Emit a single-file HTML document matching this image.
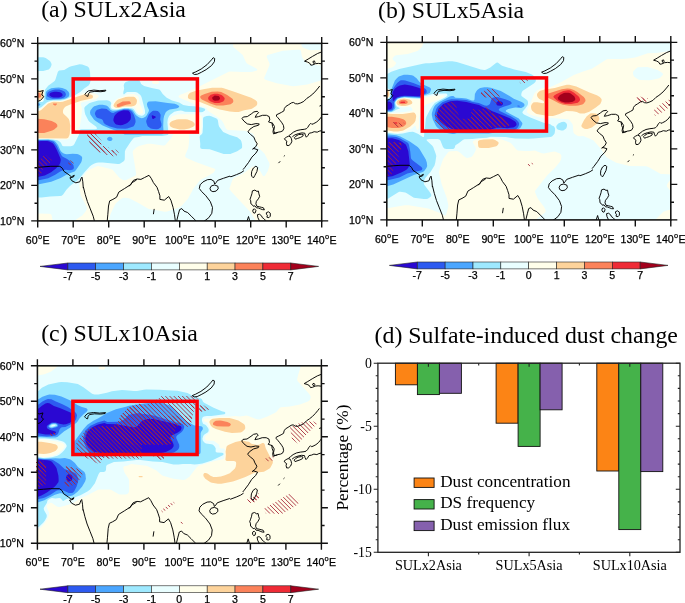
<!DOCTYPE html>
<html lang="en"><head><meta charset="utf-8"><title>Sulfate-induced dust change</title>
<style>html,body{margin:0;padding:0;background:#fff}svg{display:block}</style></head>
<body>
<svg width="685" height="603" viewBox="0 0 685 603">
<rect width="685" height="603" fill="#fff"/>
<clipPath id="clipa"><rect x="37.7" y="43.4" width="284" height="177.5"/></clipPath>
<g id="map-a">
<rect x="37.7" y="43.4" width="284" height="177.5" fill="#2a08d2"/>
<path fill="#2d5af0" fill-rule="evenodd" d="M321.7 220.9L37.7 220.9L37.7 177L44.7 175.4L49.7 173L51.4 171.9L55.9 168.4L59.2 165L60.2 162.9L60.8 159.9L60.5 158.4L56.7 149.8L54.7 146L53.4 143.9L52.4 142.9L49.2 141.4L47.2 141.1L41.7 141L37.7 141.3L37.7 43.4L321.7 43.4L321.7 220.9ZM59 97.4L61.7 96.5L62.6 95.4L62.4 93.9L61.3 92.9L60.2 92.3L56.7 91.7L54.2 91.7L51.2 92.4L50.2 93L49.5 93.9L49.3 94.9L49.5 95.4L51.7 97L53.7 97.4L59 97.4ZM122.4 124.9L125.7 123.8L127.2 123L129.4 120.9L130.6 119.4L130.9 117.4L130.7 114.1L129.7 111.9L128.2 110.6L123.7 110.3L119.7 111.4L117.1 112.9L115.1 114.9L114.2 116.4L113.5 118.9L113.4 120.4L114 121.9L115.2 123.7L116.2 124.4L118.7 125L120.7 125.2L122.4 124.9ZM153.4 118.9L155.7 117.4L155.8 116.9L155.2 116.3L152.2 115.2L151.8 115.4L151.7 115.9L152.1 117.9L152.7 118.9L153.4 118.9Z"/>
<path fill="#4ba6ff" fill-rule="evenodd" d="M321.7 220.9L37.7 220.9L37.7 180.6L48.2 178.2L55.2 174.7L60.2 171.4L63.7 169.9L65.7 169.7L69.7 170.2L72.2 169.8L73.5 168.9L73.9 167.4L73.4 164.9L70.7 161.4L66.7 158.8L63.2 157L61.9 155.9L59.4 151.4L56.8 145.9L53.7 141.8L51.6 140.9L48.2 140.3L37.7 140.3L37.7 43.4L321.7 43.4L321.7 220.9ZM61.1 98.4L62.9 97.9L64.7 97L65.5 95.9L65.9 94.4L65.5 92.9L64.7 91.7L61.7 90.2L59.2 89.6L55.2 89.6L52.7 89.9L48.9 91.4L47.7 92.4L47.2 93.4L46.9 95.4L47.3 96.4L48.2 97.1L50.7 98.3L52.7 98.7L57.2 98.8L61.1 98.4ZM127.4 128.4L131.7 127.1L133.3 126.4L134.5 124.9L135.6 121.9L135.4 119.4L133.9 114.9L132.1 111.9L130.5 110.4L128.2 109.5L123.4 109.4L116.5 111.4L113.2 113.1L111.2 112.4L106.7 109L105.2 108.7L101.7 108.6L97.2 109.8L96.3 110.4L95.6 111.4L95 112.9L94.9 113.9L96.2 117L97.7 118.1L101.2 119L102.2 119.5L102.9 120.4L103.8 122.9L105.6 124.4L109.9 126.4L117.2 128.5L125.2 128.7L127.4 128.4ZM158.3 128.9L160.7 127.5L161.5 125.4L161.4 123.4L160.2 119.4L160.6 115.4L160.5 114.4L159.2 112.3L157.7 111L155.7 110.7L153.2 110.8L152.2 111.3L150.2 112.9L148.7 114.7L146.3 120.4L146.2 121.4L146.5 122.9L147.7 126.2L150.7 128.4L153.2 129.1L156.7 129.2L158.3 128.9Z"/>
<path fill="#9ee9ff" fill-rule="evenodd" d="M321.7 220.9L37.7 220.9L37.7 184.5L51.2 181.7L60.7 177.9L68.2 173.7L74.5 171.4L76 169.9L81.1 162.4L81.7 160.9L82.2 157.9L82 156.9L81.2 155.9L78.7 154.4L77.2 153.9L72.7 153.7L66.7 154.2L65.2 154.1L63.7 153.5L62.2 152.4L60.7 150.9L58 144.9L55.7 141.9L54.2 140.8L52.2 140.2L48.2 139.7L37.7 139.7L37.7 105.9L39.6 105.4L40.2 104.9L40.3 104.4L40.1 103.9L39.5 103.4L37.7 103.1L37.7 43.4L321.7 43.4L321.7 220.9ZM48.4 99.9L59.7 99.6L64.7 98.8L66.7 97.9L68.8 96.4L69.3 94.9L69.2 92.9L68.3 91.4L66.2 89.4L62.2 88L58.7 87.5L55.2 87.7L51.2 88.3L47.2 90.5L46.3 91.4L45.8 92.4L45.5 98.4L46.2 99.5L47.2 99.9L48.4 99.9ZM140.2 134.4L161.2 134.3L163 133.9L163.6 132.9L163.2 125.9L163.5 118.9L164.1 115.9L165.6 112.4L167 110.9L169.7 109.5L176.2 108.4L177.7 107.9L179.1 106.9L179.1 105.9L176.7 104.4L174.7 103.8L167.7 103.1L155.7 101.3L148.7 101.4L147.5 102.4L146.9 103.9L147.4 106.4L149 109.9L148.7 111.4L146.7 115.2L145.7 116.6L143.7 117.7L141.7 118.2L139.2 117.6L136.7 115.8L135.4 114.4L132.8 110.4L131.2 109.5L128.2 108.8L124.2 108.7L116.2 110.6L112.7 110.8L110.7 109.9L108.2 106.7L107.2 105.9L106.2 105.4L102.7 104.8L99.2 104.7L94.2 106.3L92.7 107.4L90.4 110.4L90 112.4L90.4 114.4L93.9 119.4L95.7 121.1L102.7 125.4L109.2 128.2L121.7 132.9L124.7 134.4L140.2 134.4ZM110.7 140.9L111.8 140.4L112.4 139.4L112.4 138.4L111.8 137.4L110.7 136.9L109.7 136.8L108.2 137.2L107.4 137.9L107 138.9L107.7 140.2L109.2 140.9L110.7 140.9Z"/>
<path fill="#e9feff" fill-rule="evenodd" d="M321.7 220.9L37.7 220.9L37.7 197.6L41.7 197.5L50.2 196.6L60.2 196L61.7 195.7L63.1 194.4L66.6 189.4L70 185.9L71.8 184.4L76.2 181.6L79.2 178.7L85.1 171.4L89.7 166.4L91.6 164.9L94.4 163.4L96.7 162.7L98.7 162.6L102.7 162.6L117.7 164.1L119.2 164L120.7 163.3L123.7 161.2L124.6 159.9L124.8 158.4L124.9 151.4L125.6 149.4L130.7 141.8L133.3 138.4L134.6 137.4L138.7 137L142.2 136.1L162.2 136L167.7 134.9L168.3 134.4L168.4 133.4L167.4 122.4L167.8 118.9L168.7 116.7L169.9 114.9L174.2 111.8L177.3 110.9L180.7 110.5L182.2 110.7L184.2 111.6L185.2 111.8L194.2 111.9L201.2 112.3L202.7 111.9L204.2 111.1L204.9 110.4L205.3 109.4L204.4 108.4L201.2 107.4L194.2 106.3L188.7 106.1L183.2 104.9L179.2 102.6L172 100.4L166.7 97.7L162.7 94L160.4 90.4L159.2 89.5L151.6 87.9L144.1 85.9L141.1 83.9L140.1 81.4L139.2 80.5L137.7 80.2L130.2 80.4L125.7 82.1L124.3 83.4L123.7 85.4L124.2 88.8L123.3 91.9L123.3 93.9L123.7 94.3L124.2 94.3L126.2 92.5L127.2 92.1L135.2 91.9L137.2 92.6L140.4 94.9L141.5 96.9L145 110.4L145.1 113.4L143.7 115L142.2 115.7L141.2 115.8L138.4 114.9L136.5 113.4L133.7 109.2L132.2 108.5L128.7 108.1L124.7 108L122.7 108.2L116.7 109.6L114.7 109.6L112.7 109.3L111.3 108.4L110.7 107.4L110.6 105.9L111.3 102.9L110.2 101.6L108.2 100.6L106.7 100.3L98.2 100.4L91.2 102.5L89.2 103.3L85.2 106.4L84.5 107.4L84.3 108.4L84.7 111.9L85.3 114.4L88.4 120.4L89.7 122L96.2 126.8L96.9 127.9L96.7 128.9L94.7 129.2L81.7 129.3L80.2 129.6L79.2 130.9L79.2 133.4L78.8 134.9L74.4 143.9L73.2 145.4L70.7 146.2L63.7 146.2L62.7 145.9L62.2 145.5L61 142.9L60.2 141.9L58.8 140.9L57.2 140.3L53.2 139.6L48.2 139.1L37.7 139.2L37.7 108.4L41.2 107.2L46.7 102.5L48.7 101.4L53.2 100.5L60.2 100.5L63.7 100L67.7 98.6L71.7 96.4L75.3 94.9L80.2 91.9L84.2 88.4L88.6 85.4L89.9 83.4L90.7 79.9L90.2 75.9L90.1 72.4L89.1 67.9L87.7 66.6L82.2 64.5L79.7 64.2L71.2 66.2L69.2 66.9L64.2 69.9L59.2 70.5L58.5 70.9L57.8 71.9L55.7 78.8L55 80.4L54 81.4L48.2 85.7L45.2 89.4L44.7 91.4L44.4 96.9L43.6 100.9L42.7 101.7L41.7 102L37.7 101.9L37.7 71.1L43.2 71.1L48.7 69.4L50.2 67.9L51.2 65.9L51.6 64.4L51.2 62.9L50 60.9L45.7 58.1L43.2 57.3L37.7 57.2L37.7 43.4L321.7 43.4L321.7 220.9ZM230.3 153.9L237.2 151.2L241.7 148.3L242.1 147.4L242.1 144.4L241.4 141.4L240.7 139.9L237.2 137.3L229.9 134.9L223.2 131.9L219.2 126.8L218.6 124.9L217.9 120.4L217.5 119.4L216.5 118.4L211.2 116.2L209.2 115.7L206.7 115.9L203.8 116.9L203.2 117.9L203 118.9L203 126.4L202.5 132.9L201.7 134.3L200.1 135.4L199.6 136.9L200.3 143.9L200.1 146.9L200.7 148.4L202.2 149L209.7 149.3L223.7 153.9L230.3 153.9Z"/>
<path fill="#fffeea" fill-rule="evenodd" d="M321.7 220.9L255.5 220.9L254.9 219.4L250.3 211.9L231.7 192.1L229.7 189.4L229.4 188.4L232.2 180.4L233.4 178.4L234.7 177.6L242.8 173.9L252.2 166.7L253.2 166.4L254.2 166.6L259.2 169.9L260.5 171.4L262.7 175.5L263.7 176.2L264.5 175.9L265.2 175.2L267.8 170.9L269.5 165.4L269.5 163.9L269.3 162.9L264.7 153.9L262.7 151.7L258.5 147.9L256.2 144.4L255.6 142.9L254.7 137L253.7 134.7L252.7 133.6L251.7 133L244.7 130.8L237.7 130.6L234.2 130.2L228.2 130.1L227.2 129.8L225.9 128.4L223.1 122.4L221.7 120.4L217.7 117.2L208.2 111.1L207.6 110.4L206.9 108.4L206.3 107.9L203.2 106.7L198.2 105.7L195.9 104.9L189.6 101.9L179.8 97.9L178.6 96.9L178.6 95.9L179.7 95L186.2 92.4L198.2 87L228.2 71.9L229.7 71.6L237.2 71.7L241.7 72.1L250.7 72.1L252.7 71.8L256.8 70.4L257.3 69.9L257.3 69.4L256.3 68.4L248.2 64.3L246.7 63.2L245.9 61.9L242.7 54.9L233.4 46.9L233.1 45.9L233 43.4L301.3 43.4L301.7 45.9L302.7 47.4L309.2 50L310.7 50.2L315.7 50.1L321.7 49.7L321.7 65.6L311.7 64.5L308.2 64L307.2 63.5L304 59.9L302.3 57.4L301.7 55.4L301.1 51.4L300.7 50.4L299.7 49.8L296.2 49.7L282.7 50.8L267.7 55L266.7 55.9L266.7 56.9L269.5 63.4L269.6 64.9L264.1 77.9L264.4 78.9L266.1 79.9L276.7 83.3L292.7 86.2L295.7 86.1L307.2 84.4L321.7 80.2L321.7 220.9ZM38.2 46.4L37.7 46.6L37.7 44.1L40 44.4L39.6 45.4L38.2 46.4ZM157.7 84L155.2 84.1L153.2 83.8L152.1 82.9L152 81.9L152.7 81.1L154.7 80.4L156.2 80.3L157.7 80.7L158.9 81.4L159.3 82.4L158.8 83.4L157.7 84ZM41.2 101L37.7 101.2L37.7 89.1L42.2 89.3L43.2 89.7L43.7 90.4L44.1 94.9L43.7 97.9L42.7 100.2L41.2 101ZM67.7 139.5L60.2 139.7L47.7 138.8L37.7 138.8L37.7 109.9L39.2 109.5L41.2 108.5L47.2 103.1L49.4 101.9L53.2 101L60.7 101L63.7 100.6L67.7 99.2L77.7 95L83.2 93.2L88.2 92.5L90.7 92.5L95.7 93.9L97.8 94.9L98.8 95.9L98.6 96.9L95.7 99.2L91.7 100.3L85.2 101.4L81.7 102.4L80.9 102.9L80.7 103.9L81.8 107.4L81.9 110.4L81.3 117.9L79.7 126.9L77.2 131.1L74.7 132.3L73.2 134.1L70.7 136L69.2 138.7L67.7 139.5ZM140.7 114L139.2 113.7L137.7 112.5L136.5 110.9L135.2 108.3L134.2 107.5L124.2 107.4L117.7 108.9L115.2 108.9L113.7 108.4L112.6 107.4L112.1 105.9L112.4 104.4L114 101.4L116.2 99.3L118.7 98L124.2 96.2L126.7 94.5L128.7 94.2L133.7 94.1L135.2 94.4L137.6 95.9L138.7 97.3L139.7 103.4L142.7 109.5L143.1 111.9L142.9 112.9L142.2 113.5L140.7 114ZM108.7 220.9L75 220.9L76.1 219.4L80.7 216.6L82.3 215.4L85.9 210.9L86.9 208.9L86.6 206.9L80.7 194.9L79.1 184.9L79.4 183.4L81.1 179.9L85.7 172.7L87.2 171.3L89.7 169.6L96.2 166.6L98.2 166.1L107.7 168.2L112.2 169.5L113.2 170.4L119.2 177.5L121.2 179L123.7 180.2L124.7 180.3L126.2 179.9L134.7 176.1L135.7 175.4L136.2 173.9L132.7 152.4L132.9 150.9L133.7 149.9L136.7 147.3L138.9 145.9L147.7 143.7L150.7 143.7L162.7 145.5L164.2 145.4L165.3 144.9L170.9 138.4L172.7 135.2L173.4 134.4L172.8 133.9L171.1 133.4L170.2 132.5L168.5 124.9L168.5 122.4L169.1 120.4L170.9 117.4L172.2 116.3L177.2 114.5L179.7 114.2L194.2 114.2L199.7 115.1L201.2 115.6L201.7 116.4L201.8 117.4L201.7 126.4L201.3 132.4L200.7 133.2L199.7 133.5L191.2 133.7L189.6 133.9L188.8 134.4L189.3 135.4L189.4 137.4L188.7 144.9L188.2 147.9L185.3 154.9L185.1 156.4L186.2 157.7L195.7 161.9L208.2 166.6L214.7 168.7L215.3 169.4L215.3 169.9L213.7 172.4L209.7 175L201.2 179.6L199.7 180.8L193.5 188.4L187.8 198.9L181.9 205.4L179.2 207.6L167.2 211.6L164.7 211.7L160.7 211L148.7 208.9L138.4 202.9L130.2 198.8L128.7 198.3L125.2 197.8L123.2 197.8L121.2 198.8L116.7 202.4L115.4 203.9L110.7 213.4L109.3 218.4L109 220.9L108.7 220.9ZM52.2 220.9L37.7 220.9L37.7 213.6L48.7 213.7L50.7 214L51.5 214.9L51.8 215.9L52.6 220.4L52.6 220.9L52.2 220.9Z"/>
<path fill="#fdd39b" fill-rule="evenodd" d="M238.7 112L235.2 112L229.7 111.4L219.7 109.4L213.7 107.6L196.2 100.6L189.7 99.2L188.5 98.4L187.9 97.4L188 95.4L188.8 93.9L190.2 92.8L195.2 91.1L199.7 90L204.7 88.9L212.2 87.8L221.7 87.8L223.7 88.2L234.2 91.7L251.2 97.7L255.2 99.9L256.9 101.4L257.3 102.9L257 104.9L255.7 106.3L252.7 108.3L251.2 108.9L244.2 110.3L238.7 112ZM38.7 99.9L37.7 100L37.7 90.4L41.7 90.6L42.7 91.3L43.1 92.4L43.4 95.4L43.2 97.4L42.7 98.3L41.7 99.1L38.7 99.9ZM66.2 138.4L37.7 138.3L37.7 111.3L39.2 111L41.2 110.1L48.2 103.6L51.7 102.2L53.7 101.8L60.2 102L62.7 101.7L77.7 96.4L84.2 94.5L89.7 94.3L92.2 95.1L92.9 95.9L93 96.9L92.5 97.9L91.7 98.5L81.2 100.8L70.2 104.4L65.7 106.6L64.6 107.4L63.5 108.9L62.9 110.9L63.1 112.9L63.7 113.9L66.5 116.4L68.8 118.9L69.5 120.9L70.3 125.9L69.8 133.4L69.5 134.9L68.2 137.8L67.2 138.3L66.2 138.4ZM118.7 108L116.7 108.1L115 107.4L113.8 106.4L113.5 105.4L114 103.9L115.4 101.9L116.7 100.6L118.2 99.6L125.7 97.1L128.2 96.8L133.7 96.8L135.2 97.6L136.7 99.4L137 100.9L136.5 103.4L135.5 104.9L133.9 105.9L131.2 106.5L124.2 106.6L118.7 108ZM184.2 129.4L179.7 129.4L173.2 128L171.2 127L170.2 126.2L169.6 124.9L169.7 123.3L170.7 121.9L172.2 121L176.7 119.5L178.7 119.2L185.7 119.2L187.7 119.5L192.2 121.3L194.3 122.9L194.7 123.9L194.7 124.9L194.2 125.9L193.2 126.8L189.2 128.5L184.2 129.4Z"/>
<path fill="#fb825a" fill-rule="evenodd" d="M223.2 105.5L216.2 105.5L210.2 103.5L201.8 99.4L200.4 97.9L200.2 96.4L201.2 95.5L204.7 93.9L211.7 91.7L217.7 91.6L221.2 92.1L227.2 95.1L231.4 97.9L232.7 99.1L233.4 100.9L233 102.4L230.7 104.2L223.2 105.5ZM37.7 97.9L37.7 92.7L39.7 92.9L40.7 93.9L41.1 95.4L41.1 96.4L40.1 97.4L37.7 97.9ZM119.2 106.9L117.7 107L117.2 106.7L116.7 105.4L116.9 104.4L122.7 101.4L129.2 101.2L130.2 101.8L130.8 102.9L130.7 103.9L130.2 104.1L126.2 104.7L119.2 106.9ZM55.7 105.5L54.7 105.5L53.2 104.4L52.8 103.9L53.1 103.4L56.9 103.4L57.1 103.9L55.7 105.5ZM44.2 133L37.7 133.1L37.7 118.7L44.2 119.3L51.7 121L55.7 122.9L57.1 124.4L57.4 125.9L57.1 126.9L54.2 129.4L52.2 130.4L44.2 133Z"/>
<path fill="#ef2b36" fill-rule="evenodd" d="M219.2 103L214.7 103L210.7 101.4L209.3 100.4L208.5 99.4L208.2 98.4L208.3 97.4L209.2 96.2L210.7 94.8L211.7 94.4L214.2 93.8L217.7 93.7L221.5 94.9L222.9 95.9L224.2 97.4L224.6 98.4L224.4 99.9L223.2 101.4L219.2 103Z"/>
<path fill="#a3001c" fill-rule="evenodd" d="M218.2 100.6L215.2 100.7L213.9 100.4L212.7 99.4L212.3 98.4L212.3 97.4L212.7 96.9L214.7 95.6L218.7 96L219.9 97.4L220 98.4L219.2 99.9L218.2 100.6Z"/>
<clipPath id="ha">
<path d="M38 161.9L42 156.9L45.5 154.4L48 156.9L51.9 159.9L50.9 162.4L48 163.9L43 167.8L42 172.8L38 176.8ZM67.9 163.4L69.9 159.9L73.8 162.4L72.9 164.9L68.9 165.4ZM86.3 132L91.8 132L96.8 136.5L96.8 140.9L100.7 146.4L105.7 145.9L105.7 151.9L99.7 152.4L89.8 142.9ZM86.6 133L95.4 133L96.9 135.9L101.2 140.3L101.2 146.9L108.5 147.6L110 150.5L115.8 149.8L118.8 152.7L115.8 157.1L110 154.9L105.6 154.9L99.8 152L89.6 141.8Z"/>
</clipPath>
<path clip-path="url(#ha)" d="M13.4 154.4L35.8 176.8M18 154.4L40.4 176.8M22.7 154.4L45.1 176.8M27.4 154.4L49.8 176.8M32 154.4L54.4 176.8M36.7 154.4L59.1 176.8M41.4 154.4L63.8 176.8M46 154.4L68.4 176.8M50.7 154.4L73.1 176.8M60.8 159.9L66.3 165.4M65.5 159.9L71 165.4M70.2 159.9L75.6 165.4M65.6 132L86 152.4M70.3 132L90.7 152.4M74.9 132L95.4 152.4M79.6 132L100 152.4M84.3 132L104.7 152.4M88.9 132L109.4 152.4M93.6 132L114 152.4M98.3 132L118.7 152.4M102.9 132L123.4 152.4M62 133L86.1 157.1M66.6 133L90.7 157.1M71.3 133L95.4 157.1M76 133L100.1 157.1M80.6 133L104.7 157.1M85.3 133L109.4 157.1M90 133L114.1 157.1M94.6 133L118.7 157.1M99.3 133L123.4 157.1M104 133L128.1 157.1M108.6 133L132.7 157.1M113.3 133L137.4 157.1M118 133L142.1 157.1" stroke="#a8283a" stroke-width="0.9" fill="none"/>
<path clip-path="url(#clipa)" d="M36 167.5L38 167.3L44 166.8L50.9 166.3L59.9 166.3L62.4 168.3L63.9 171.3L68.9 174.8L71.4 176.8L74.3 175.3L73.4 177L69.9 177.8L71.9 180.8L75.8 182.8L79.8 181.8L81.3 177.8L82 177.1L82.8 181.8L83.3 188.1M83.4 187L85.2 194.3L87.4 201.6L90.3 208.9L93.2 216.2L94.7 222.1M107.1 222.1L107.8 214.8L108.5 206L109.7 200.9L112.9 199.4L116.6 197.2L118.8 192.1L124.6 188.5L130.4 184.8L133.4 180.4L137 179M128.8 185.8L130 185.6L132.2 182.6L135.8 180.4L137.3 179L140.9 179.4L144.6 177.5L149 175.3L151.2 178.3L153.4 182.6L157 187.3L158.5 191.4L159.9 195.8L159.9 199.4L164.3 200.2L168.7 196.5L170.9 200.2L173.1 207.5L174.5 214.8L175.5 222.1M176.4 222.1L178.2 214.8L179.6 209.6L181.8 208.6L184 211.1L187.7 212.6L191.3 216.2L195 219.9L196.4 222.1M203 222.1L208.8 217.7L211.8 213.3L212.5 207.5L210.3 201.6L205.9 195.8L201.5 191.4L199.3 188.5L200.1 184.8L203 181.9L207.4 179.7L211 179.4L213.9 181.2L214.7 184.1L216.1 182.6L217.6 180.4L223.4 178.3L230 176.1M210 188.2L211.5 185.8L214.7 185L217.9 186.3L218.2 188.8L216.1 191.1L212.9 191.7L210.6 190.5ZM153.4 214.2L154.2 208.9M230 176.1L230.8 176.8L236.6 174.6L241 172.7L243.9 170.7M243 169.6L244.6 167.7L248.6 162.4L251.9 157.1L255.9 153.1L257.9 149.8L253.9 148.5L252.6 149.1L255.9 146.5L257.2 143.8L255.2 140.5L253.9 137.2L250.6 134.5L247.9 131.9L249.9 129.2L253.9 126.5L258.6 125.2L259.2 123.9L255.9 123.6L251.3 124.6L247.3 123.9L244 121.2L242 118.6L243.3 117L247.3 116.6L251.3 113.9L253.9 111.9L257.2 111.3L258.6 112.6L256.6 114.6L255.2 117.3L258.6 116.6L262.5 115.3L266.5 115.3L269.2 116.6L269.8 119.9L268.5 121.9L272.5 123.2L274.5 126.5L273.8 130.5L274.5 133.2L277.8 132.5M322.7 51.5L317.6 53.5L312.5 56.4L308.1 59.1L304.5 61.2L307.4 62L309.6 63.1L310.8 65.2L312.8 64.9L315.4 63.7L318.4 63.4L322.7 63.9M312.8 61.7L314.3 60.8L315.1 62.3L314 63.7ZM319.5 106.1L322.7 104.9M272 122.6L272.5 126.3L273.5 128.8L273 131.7L273.5 133.9L275.5 133.2L278 132.2L280.9 131.7L282.9 130.7L283.9 128.3L283.4 125.3L281.9 122.8L280 120.3L278 117.8L276.5 116.3L276.5 114.8L279 113.6L281.4 112.4L283.9 110.9L284.4 108.4L285.9 106.4L288.4 104.9L291.4 102.9L293.4 102.4L295.4 103.7L297.8 103.9L300.8 102.9L303.8 101.4L306.8 98.4L309.8 96.4L312.8 94L315.7 91L318.2 88L319.7 86M284.4 138.7L286.4 137.2L288.4 136.2L290.4 136.7L291.4 138.7L291.9 141.2L290.9 143.7L288.9 145.5L286.9 145.5L286.4 143.2L286.9 141.2L285.4 140.2ZM288.9 135.7L290.9 134.2L293.4 132.2L296.9 130.5L300.8 129.7L304.3 129.3L306.3 128.8L307.8 127.3L309.3 124.8L310.8 123.3L311.8 124.3L313.3 123.8L316.2 122.3L318.7 120.3L320.7 117.8L322.2 115.8M292.4 136.7L294.9 134.9L298.3 133.7L301.8 132.9L304.8 133.2L305.3 135.2L306.3 137.2L307.8 135.7L309.3 133.2L311.8 132.7L314.2 131.7L317.2 132.2L319.2 131.2L322.2 130.5M294.4 137.7L295.9 136.2L298.3 134.7L301.8 134.2L303.3 134.7L302.8 136.2L300.3 137.5L297.3 138.5L295.4 139.2ZM283.8 156.4L284.8 155.5M278.5 163.1L280.2 161.3M251.4 174.9L251.7 171.5L253.4 168L255.9 166.2L257.7 167.5L256.9 171.5L254.9 175.4L253.4 177.9L251.9 176.4ZM252.4 190.9L254.9 190.1L256.9 191.4L258.4 191.1L258.9 193.8L259.7 196.3L258.4 198.8L256.4 201.3L255.9 203.8L256.9 206.3L259.4 206.8L261.4 207.3L263.4 207.8L264.4 209.8L262.4 209.6L260.4 208.8L258.4 208L256.4 207.8L254.9 205.8L253.4 206.3L252.4 204.8L250.9 203.8L250.7 200.8L250 199.3L250.9 196.8L251.9 193.8ZM252.9 209.8L254.4 208.8L255.9 210.3L255.4 212.7L253.9 213.2L252.9 211.8ZM266.4 212.7L268.4 211.8L270.3 213.2L270.3 216.2L268.9 217.7L266.9 217.2L267.4 215.2L266.4 214.2ZM257.4 214.7L259.4 214.2L261.4 215.7L262.4 217.7L263.9 218.7L265.4 220.2L264.4 221.7L259.9 221.7L257.9 217.7ZM247 221.2L248.5 216.5L249.8 221.2M192.5 73.2L195.7 71.9L201.2 69L207.1 64.6L211.5 59.8L213.2 57.7L214.7 58.5L214.4 61.7L211.5 65.6L206.2 69.6L201.5 72.2L197.4 74.2L194.5 74.5ZM84.9 94.4L86.4 92.4L88.4 90.9L93.9 90.1L99.9 90.7L105.9 90.2L105.4 91.1L100.9 91.7L94.9 91.4L89.9 92.1L88.4 93.9L87.9 96.4L86.4 95.9L85.4 94.9ZM36.3 90.8L39.8 91.5L43.3 90.5L42.3 93L41.8 95L43.8 96.5L42.3 98.5L40.3 100.5L36.3 101.7" stroke="#000" stroke-width="0.95" fill="none" stroke-linejoin="round"/>
<rect x="73.2" y="78.9" width="124.2" height="53.2" fill="none" stroke="#fb0007" stroke-width="3.5"/>
<rect x="37.7" y="43.4" width="284" height="177.5" fill="none" stroke="#111" stroke-width="1.55"/>
<path d="M37.7 220.9v6.5M37.7 43.4v-6.5M73.2 220.9v6.5M73.2 43.4v-6.5M108.7 220.9v6.5M108.7 43.4v-6.5M144.2 220.9v6.5M144.2 43.4v-6.5M179.7 220.9v6.5M179.7 43.4v-6.5M215.2 220.9v6.5M215.2 43.4v-6.5M250.7 220.9v6.5M250.7 43.4v-6.5M286.2 220.9v6.5M286.2 43.4v-6.5M321.7 220.9v6.5M321.7 43.4v-6.5M37.7 43.4h-6.5M321.7 43.4h6.5M37.7 61.1h-3.2M321.7 61.1h3.2M37.7 78.9h-6.5M321.7 78.9h6.5M37.7 96.7h-3.2M321.7 96.7h3.2M37.7 114.4h-6.5M321.7 114.4h6.5M37.7 132.2h-3.2M321.7 132.2h3.2M37.7 149.9h-6.5M321.7 149.9h6.5M37.7 167.7h-3.2M321.7 167.7h3.2M37.7 185.4h-6.5M321.7 185.4h6.5M37.7 203.2h-3.2M321.7 203.2h3.2M37.7 220.9h-6.5M321.7 220.9h6.5" stroke="#111" stroke-width="1.4" fill="none"/>
<text x="37.7" y="243.9" text-anchor="middle" font-size="10.6" font-family="Liberation Sans, sans-serif" stroke="#000" stroke-width="0.25">60<tspan font-size="7.4" dy="-5.1" dx="0.3">o</tspan><tspan dy="5.1" dx="0.4">E</tspan></text>
<text x="73.2" y="243.9" text-anchor="middle" font-size="10.6" font-family="Liberation Sans, sans-serif" stroke="#000" stroke-width="0.25">70<tspan font-size="7.4" dy="-5.1" dx="0.3">o</tspan><tspan dy="5.1" dx="0.4">E</tspan></text>
<text x="108.7" y="243.9" text-anchor="middle" font-size="10.6" font-family="Liberation Sans, sans-serif" stroke="#000" stroke-width="0.25">80<tspan font-size="7.4" dy="-5.1" dx="0.3">o</tspan><tspan dy="5.1" dx="0.4">E</tspan></text>
<text x="144.2" y="243.9" text-anchor="middle" font-size="10.6" font-family="Liberation Sans, sans-serif" stroke="#000" stroke-width="0.25">90<tspan font-size="7.4" dy="-5.1" dx="0.3">o</tspan><tspan dy="5.1" dx="0.4">E</tspan></text>
<text x="179.7" y="243.9" text-anchor="middle" font-size="10.6" font-family="Liberation Sans, sans-serif" stroke="#000" stroke-width="0.25">100<tspan font-size="7.4" dy="-5.1" dx="0.3">o</tspan><tspan dy="5.1" dx="0.4">E</tspan></text>
<text x="215.2" y="243.9" text-anchor="middle" font-size="10.6" font-family="Liberation Sans, sans-serif" stroke="#000" stroke-width="0.25">110<tspan font-size="7.4" dy="-5.1" dx="0.3">o</tspan><tspan dy="5.1" dx="0.4">E</tspan></text>
<text x="250.7" y="243.9" text-anchor="middle" font-size="10.6" font-family="Liberation Sans, sans-serif" stroke="#000" stroke-width="0.25">120<tspan font-size="7.4" dy="-5.1" dx="0.3">o</tspan><tspan dy="5.1" dx="0.4">E</tspan></text>
<text x="286.2" y="243.9" text-anchor="middle" font-size="10.6" font-family="Liberation Sans, sans-serif" stroke="#000" stroke-width="0.25">130<tspan font-size="7.4" dy="-5.1" dx="0.3">o</tspan><tspan dy="5.1" dx="0.4">E</tspan></text>
<text x="321.7" y="243.9" text-anchor="middle" font-size="10.6" font-family="Liberation Sans, sans-serif" stroke="#000" stroke-width="0.25">140<tspan font-size="7.4" dy="-5.1" dx="0.3">o</tspan><tspan dy="5.1" dx="0.4">E</tspan></text>
<text x="24.3" y="47.3" text-anchor="end" font-size="10.6" font-family="Liberation Sans, sans-serif" stroke="#000" stroke-width="0.25">60<tspan font-size="7.4" dy="-5.1" dx="0.3">o</tspan><tspan dy="5.1" dx="0.4">N</tspan></text>
<text x="24.3" y="82.8" text-anchor="end" font-size="10.6" font-family="Liberation Sans, sans-serif" stroke="#000" stroke-width="0.25">50<tspan font-size="7.4" dy="-5.1" dx="0.3">o</tspan><tspan dy="5.1" dx="0.4">N</tspan></text>
<text x="24.3" y="118.3" text-anchor="end" font-size="10.6" font-family="Liberation Sans, sans-serif" stroke="#000" stroke-width="0.25">40<tspan font-size="7.4" dy="-5.1" dx="0.3">o</tspan><tspan dy="5.1" dx="0.4">N</tspan></text>
<text x="24.3" y="153.8" text-anchor="end" font-size="10.6" font-family="Liberation Sans, sans-serif" stroke="#000" stroke-width="0.25">30<tspan font-size="7.4" dy="-5.1" dx="0.3">o</tspan><tspan dy="5.1" dx="0.4">N</tspan></text>
<text x="24.3" y="189.3" text-anchor="end" font-size="10.6" font-family="Liberation Sans, sans-serif" stroke="#000" stroke-width="0.25">20<tspan font-size="7.4" dy="-5.1" dx="0.3">o</tspan><tspan dy="5.1" dx="0.4">N</tspan></text>
<text x="24.3" y="224.8" text-anchor="end" font-size="10.6" font-family="Liberation Sans, sans-serif" stroke="#000" stroke-width="0.25">10<tspan font-size="7.4" dy="-5.1" dx="0.3">o</tspan><tspan dy="5.1" dx="0.4">N</tspan></text>
</g>
<clipPath id="clipb"><rect x="386.8" y="42.4" width="284" height="177.5"/></clipPath>
<g id="map-b">
<rect x="386.8" y="42.4" width="284" height="177.5" fill="#2a08d2"/>
<path fill="#2d5af0" fill-rule="evenodd" d="M670.8 219.9L386.8 219.9L386.8 177.1L392.3 176.2L401.8 172.2L406 169.9L407.3 168.9L409.3 165.9L409.8 164.4L408.3 151.2L406.5 145.9L405.7 144.4L402.3 141.9L398.8 139.9L392.3 138.3L386.8 138.3L386.8 109.7L389.3 109.6L391 108.9L391.9 107.9L392.3 105.4L391.9 103.4L390.3 102L388.8 101.4L386.8 101.4L386.8 42.4L670.8 42.4L670.8 219.9ZM393.4 100.9L395.8 98.3L397.3 97.2L401.8 96.1L404.8 95.7L413.3 95.9L417.3 96.3L419.8 96.2L421.3 94.1L424 92.9L424.3 92.4L424.3 91.2L423.3 89.9L420.4 88.4L417.8 87.4L410.8 85.4L404.8 84.6L399.8 85.4L397.3 86.8L395.1 88.4L394.2 89.4L392.8 91.9L392.6 93.4L392.6 96.9L392.8 100.4L393.4 100.9ZM488.8 130.9L489.8 130.6L492.3 129.1L497.8 127.8L500.8 127.7L507.3 128.2L513.3 127.5L514.8 126.7L516.2 125.4L516.6 124.4L516.4 123.4L515.8 122.2L514.8 121.2L509.8 118.3L498.3 113.4L491.8 111.1L489.3 109.6L483.3 107.2L479 104.9L472.3 103.5L466.4 101.9L457.3 100.8L452.3 100.9L450.3 101.2L443.3 103.9L439.7 107.4L438.3 109.4L436.9 114.4L437.7 117.9L438.8 120.3L442.3 123.6L444.8 125.4L451.3 128.7L459.8 130.9L488.8 130.9ZM501.7 105.4L502.8 104.6L503.1 103.9L502.8 102.7L501.8 101.8L499.8 101.2L498.3 101.1L496.9 101.9L496.1 102.9L496.5 104.4L497.4 105.4L500.3 105.7L501.7 105.4Z"/>
<path fill="#4ba6ff" fill-rule="evenodd" d="M670.8 219.9L386.8 219.9L386.8 180.5L399.3 177.4L407.3 173.4L420.8 170.5L421.9 169.9L422.4 168.4L421.4 166.9L412.8 160.6L411.3 159.1L410.9 157.9L410.2 150.9L409 144.9L408.4 143.4L407.8 142.7L400.3 138.6L396.3 137.1L391.8 136.4L386.8 136.4L386.8 110.7L390.8 110.6L392.2 109.9L393.2 108.9L394.1 106.9L394 102.9L394.2 101.9L396 99.4L397.8 97.9L404.3 96.5L420.3 97.2L420.8 96.9L421.6 95.4L422.3 94.7L426 93.4L426.4 92.9L426.7 91.9L426.6 90.4L425.6 88.9L420.8 86L413.3 83.1L405.3 80.5L403.3 80.2L400.8 80.3L399.6 80.9L397.1 82.9L392.8 89L391.7 91.9L391.5 97.9L391 99.4L389.8 100L386.8 100.3L386.8 42.4L670.8 42.4L670.8 219.9ZM490.7 131.9L496.3 131L512.8 130.9L515 129.9L516.9 128.4L518.1 126.9L519 124.9L519.1 123.4L518.5 121.9L516.8 119.9L510.8 116.3L499.8 111L498.8 109.9L499 108.9L500.3 107.9L504.3 106.4L509.3 105L510.8 104.2L511.6 103.4L511.7 102.9L511.2 101.9L510.3 101.2L505.3 99.3L498.3 97.3L496.8 97.1L494.8 97.3L492.8 97.8L491.8 98.4L491.3 99.4L489.9 103.9L488.3 105.3L486.8 105.8L484.8 105.4L478.8 103L472.8 102.1L466.3 100.1L458.8 99.4L451.3 99.3L447.8 100.1L442.3 102.3L437.8 106.4L436.2 108.9L434.6 114.4L435.1 117.4L435.9 119.9L440.7 126.4L445.6 130.4L447.3 131.4L449.8 132L460.3 132.3L487.8 132.3L490.7 131.9ZM519.7 106.4L519.9 105.9L519.3 105.7L517.8 105.6L517.3 105.9L517.8 106.5L519.7 106.4Z"/>
<path fill="#9ee9ff" fill-rule="evenodd" d="M670.8 219.9L386.8 219.9L386.8 186.2L393.2 184.4L413.8 175L422.8 172.1L424.2 170.9L426.4 167.9L427.2 165.9L426.8 162.4L425.8 159.4L419.5 148.9L417.7 146.9L409.8 141.4L400.3 136.6L396.3 135.3L386.8 134.3L386.8 111.4L389.8 111.6L391.3 111.4L392.8 110.7L394.8 108.9L395.5 107.4L394.8 103.4L394.9 101.9L396.3 99.9L397.8 98.6L401.3 97.6L404.3 97.1L420.5 97.9L421.4 97.4L422.8 95.4L426.3 94.5L429.8 92.9L431.1 89.4L430.8 88.4L429.8 87.6L424.3 85L420.2 82.4L419.1 81.4L416.8 78.4L413.3 75.8L411.8 75.3L407.8 74.8L403.8 74.8L398.8 76.6L397.1 77.9L394.9 80.4L391.5 88.9L391 91.9L390.9 95.9L390.5 97.9L389.3 99.1L386.8 99.6L386.8 42.4L670.8 42.4L670.8 219.9ZM454.2 133.9L456.8 133.3L488.8 133.4L495.8 132.6L512.3 132.5L514.8 132.1L518.3 129.6L520.7 127.4L522.2 124.4L522.4 123.4L522 122.4L518.8 118.4L506.8 112.1L505.9 111.4L505.8 110.6L506.5 109.9L508.3 109.1L513.8 107.7L515.8 107.6L519.8 108.1L521.3 108L523.2 106.9L524.3 105.9L524.5 104.9L524.3 104L523.3 102.9L521.7 101.9L513.8 98.8L507.8 94.9L500.8 90.9L490.8 87.8L487.3 87.2L484.3 87.3L480.3 87.9L479.3 88.4L477.3 90L476.2 91.4L474.9 93.9L474.5 99.4L473.8 100.5L471.9 100.4L466.3 98.6L461.8 98L455.8 97.8L455 97.4L454.1 96.4L453.3 95.9L451.8 95.9L449.8 96.5L439.3 101.9L435.4 104.9L434.3 106.4L433.3 108.4L431.9 112.9L431.8 114.9L432.8 119.4L435.8 125.4L436.8 126.9L439.8 129.5L442.8 131.7L444.3 132.5L452.3 134L454.2 133.9Z"/>
<path fill="#e9feff" fill-rule="evenodd" d="M670.8 219.9L386.8 219.9L386.8 199L388.3 198.4L397.9 192.4L399.3 191.8L400.3 191.7L405.3 192.6L407.2 193.4L413.8 197.7L423.8 199L426.3 199.1L427.8 198.8L430.3 197L431.2 195.9L431.3 194.9L431 193.9L429 190.9L424.4 184.9L423.8 183.4L423.8 182.4L424.6 179.4L425.3 177.9L430.5 171.9L434.5 165.4L435.3 162.4L436.3 155.9L435.6 153.4L433.2 146.9L432.1 145.4L427.2 140.9L426.5 139.9L426.7 139.4L429.8 139.1L437.8 139.1L439.3 139.4L440.4 140.4L443 146.9L444.3 148.5L446.3 149L452.3 149L453.3 148.9L454.3 148.3L454.8 147.4L455.3 145.4L455.8 144.9L458.3 143.5L462.8 139.9L464.3 139.2L472.3 139L478.8 138.2L486.8 137.8L490.8 136.7L505.8 137.1L515.3 138.5L528.3 138.7L533.3 138.5L550.3 137L552 136.4L554.3 133.9L554.7 132.9L555.1 129.9L555 128.4L554.4 126.9L553.8 126.3L551.8 125.4L550.3 124.3L548.8 123.7L544.3 122.9L530.3 117.5L524 114.4L522.5 112.9L522.4 112.4L522.7 111.4L525.3 108.6L527.4 105.4L528 103.9L528 102.4L527.9 101.4L527.3 100.3L521.8 96.3L521.3 95.4L521.3 93.9L521.9 91.9L522.8 90.7L533.8 83.5L535.4 81.9L535.9 80.4L535.8 79.4L533.3 75.6L531.8 74.4L525.8 72L514.3 69.5L502.8 66L501.3 65.3L497.8 62.6L496.3 62.8L490.3 67.5L485.8 69.8L484.3 70.1L480.9 69.4L456.8 62.1L452.3 61.2L448.3 61.3L429.3 63.2L425.8 63.3L422.8 63.8L399.3 69.1L391.3 71.8L386.8 74.3L386.8 42.4L670.8 42.4L670.8 219.9ZM388.3 98.6L386.8 98.9L386.8 88.5L389.3 88.9L389.8 89.4L390.1 90.4L390.3 94.4L390.2 95.9L389.3 97.9L388.3 98.6ZM423.8 136.9L422.8 137L418.3 134.1L414.3 132.2L412.8 131.8L409.3 131.9L402.8 133.5L397.8 133.9L394.3 133.8L386.8 132.7L386.8 112.1L390.3 112.3L392.3 112.1L396.8 109.5L399.9 108.4L399.5 107.9L396.8 106.4L396.2 105.4L395.4 102.9L395.6 101.9L396.6 100.4L397.6 99.4L398.8 98.7L402.3 97.9L404.8 97.7L416.3 98.6L420.8 98.7L421.8 98.3L423.3 96.5L423.8 96.2L433.8 93.7L443.8 93.4L445.8 93.5L446.8 93.8L447.5 94.9L447.1 95.9L445.1 97.4L437.8 101.2L434.8 103.1L432.4 105.9L429.9 109.9L426.5 116.4L425.7 118.9L425 127.4L424.3 131.4L424.1 135.9L423.8 136.9ZM563.2 130.4L564.8 129.6L566.1 128.4L566.6 127.4L567.1 125.4L566.8 123.9L566.1 122.9L564.8 122L563.8 121.8L561.8 122.1L558.3 123.4L556.6 125.4L556.2 126.9L557 128.9L558.3 129.8L561.3 130.5L563.2 130.4Z"/>
<path fill="#fffeea" fill-rule="evenodd" d="M386.8 69L386.8 42.4L423.5 42.4L423 44.4L421.8 46.9L419 49.9L417.3 51.1L407.8 53.9L396.3 55.2L394.8 55.8L393.1 57.4L392.5 58.9L393 59.9L395.9 62.4L396.1 63.4L395.8 64L394.3 66.1L392.8 67.3L386.8 69ZM670.8 174.6L667.8 174.2L662.3 174.1L660.8 173.9L648.8 167.3L646.3 166.3L629.3 166.1L616.3 162.7L609.3 159L606.3 156.9L600.8 148.8L593.3 140.3L583.3 136.1L579.3 136.2L577.8 135.9L574.6 133.9L573.7 132.9L573.3 131.6L572.8 124.9L572.4 123.9L569.8 120.4L568.8 119.6L567.3 119.2L557.3 118.6L551.8 117.9L548.8 118.6L544.8 118.5L533.3 115.7L530.3 114.4L527.3 112.4L527 111.4L527.2 110.4L527.8 108.4L531.2 101.4L534.3 93.4L537.3 90.5L539.3 89.3L544.8 87.5L550.3 86.9L552.8 86.1L561.3 82L573.8 75L583.8 71.2L591.8 68.7L597.8 65.1L606.3 59.4L607.8 59.1L622.8 59.1L627.8 58.5L635.3 57.4L647.8 53.3L656.3 53.1L670.8 51L670.8 174.6ZM651.5 79.9L658.3 78.6L659.8 78L662.8 74.9L663 73.9L662.7 73.4L661.3 72.2L657.6 69.9L650.8 67.9L647.3 67.1L637.8 67.3L635.8 68.7L633.6 70.9L633 71.9L633 73.9L634 76.4L635.3 77.6L638.8 79.8L640.8 80.1L648.8 80.2L651.5 79.9ZM386.8 98.4L386.8 89.3L388.3 89.5L389.3 90.1L389.7 91.4L389.9 94.4L389.7 95.9L389 97.4L388.3 98L386.8 98.4ZM398.3 132.9L393.8 133L386.8 131.8L386.8 112.6L390.8 112.9L403.3 112.3L411.3 110.9L412.4 110.4L412.6 109.9L412.3 108.9L411.4 107.4L410.3 106.6L403.3 107.4L400.3 106.9L397.3 105.8L396.3 104.3L395.9 102.4L396.3 101.4L397.8 99.7L399.3 98.9L401.3 98.4L404.8 98L415.8 99.3L420.8 99.5L421.8 99.3L424.3 97.8L431.3 96.3L441.8 95.3L443.7 95.4L444.3 95.9L443.7 96.9L441 98.4L425.8 104.7L423.8 106.7L421.2 110.4L419.6 115.4L419.1 118.4L419 127.4L418.5 128.9L417.8 129.7L417.3 129.9L416.8 129.6L416.3 128.7L415.8 126.2L415.3 125.7L414.8 125.7L411.3 128.8L406.9 130.9L403.3 132.3L398.3 132.9ZM535.8 219.9L386.8 219.9L386.8 208.1L388.8 208L404.8 205.2L408.8 205.2L428.3 208.4L441.3 213.6L442.9 214.4L444.3 215.6L445.3 215.8L446.2 214.4L447.3 210.4L448.3 206.4L448.3 204.9L446.8 197.9L441.6 183.9L438.8 171.9L440.1 167.4L442.8 159.9L443.8 157.9L448.3 152L449.3 151.4L450.8 151.2L456.8 151.1L458.3 151.4L460.8 153.2L464.3 156.5L466.8 157.9L468.3 157.8L471.3 157L472.8 155.6L474.9 151.9L476 149.4L475.6 147.4L472.8 142.4L472.9 141.4L473.2 140.9L475.3 139.9L478.8 139.2L484.3 138.5L487.8 138.6L490.3 137.9L493.8 137.9L500.6 138.9L510.3 142.7L511.8 143.9L516.3 149.4L517.8 150.4L525.3 151.1L529.3 151.1L534.8 150.6L541.8 153.2L543.8 153.6L552.8 151.8L554.8 151.6L559.8 153.6L561.2 154.9L561.4 156.4L561 159.4L559.8 161.9L554.8 168.1L547.3 175.2L535.3 190.4L535 191.4L535.2 192.4L537.2 197.4L538.8 199.9L543.8 206.4L545.4 209.4L545.8 210.9L545.5 211.9L544.8 212.7L537.2 218.4L535.8 219.9ZM670.8 190.5L669.8 189.9L667.7 187.4L667 186.4L666.8 185.4L667.6 183.4L669.8 180.6L670.8 179.9L670.8 190.5ZM670.8 219.9L655.7 219.9L656.6 218.4L663.3 211.8L665.8 210.8L670.8 209.5L670.8 219.9Z"/>
<path fill="#fdd39b" fill-rule="evenodd" d="M552.8 116L548.3 115.9L536.8 114L535.3 113.2L532.5 110.9L531.7 109.9L531.1 107.9L531 105.9L531.9 103.9L533.3 102.6L534.8 102.3L537.3 102.3L542.8 103.3L543.9 102.9L544.1 101.9L543.3 100.7L539.3 98.9L537.9 97.4L537.1 95.9L537 94.4L537.3 93.4L538.8 91.7L540.3 90.7L544.8 89.4L548.3 89.1L554.8 88.1L561.8 85.9L566.8 84.8L569.3 84.7L576.3 86.6L589.5 92.4L596.8 95.2L599.8 97.1L601.5 98.9L601.7 99.9L601.4 101.4L600.3 103.9L595.8 107.6L589.3 111.8L584.3 113.4L580.8 113.5L579.3 113.3L576.8 112L572.8 111.2L566.3 111.1L564.8 111.5L559.3 114.1L554.8 115.6L552.8 116ZM387.3 97.5L386.8 97.6L386.8 90.2L388.1 90.4L388.7 90.9L389.3 93.4L389.3 94.9L389 95.9L388.3 97L387.3 97.5ZM405.3 105.9L401.8 106.1L398.3 105.3L397.3 104.6L396.6 103.4L396.5 102.4L396.8 101.5L397.8 100.3L399.1 99.4L401.3 98.8L404.3 98.4L409.3 99.4L410.8 100.2L412 101.4L412.4 102.9L411.6 103.9L408.3 105.3L405.3 105.9ZM397.8 131.5L393.8 131.5L386.8 130.2L386.8 113.5L392.3 113.9L402.8 113.9L412.8 112.4L413.8 112.5L414.8 113L416 114.9L416.2 116.4L415.4 120.9L414.1 122.9L410.3 126.5L403.8 130.3L402.3 130.8L397.8 131.5ZM587.3 129L585.8 129.1L584.3 128.7L582.3 127.4L581.5 126.4L581.4 125.4L581.8 124.4L584.1 119.9L586.8 116.2L590.3 113.6L591.3 113.2L592.8 113.2L596.3 113.8L597.3 114.2L598.6 115.9L599.4 118.4L599.1 119.9L597.3 122.9L596.3 124L591.8 127.5L587.3 129ZM488.8 147.9L481.3 148.1L479.3 147.7L478.5 146.9L478.2 145.9L477.9 141.9L478.2 140.9L479.3 140.2L483.8 139.4L492.8 139.3L495.2 139.9L498.3 141.9L498.6 142.9L498.4 143.9L497.3 145.4L496.3 146.2L488.8 147.9Z"/>
<path fill="#fb825a" fill-rule="evenodd" d="M578.3 105.4L575.8 105.7L569.3 105.7L562.8 104.7L558.8 103.2L552.3 99.8L547.3 97.6L545.6 96.4L545.3 95.4L546.3 94.5L548.3 93.6L561.8 89.3L567.3 88.4L570.3 88.7L573.8 89.9L577.3 92.1L583.8 97.1L585.2 98.9L585.5 100.9L583.8 103.4L582.3 104.4L578.3 105.4ZM387.3 95.6L386.8 95.8L386.8 91.8L387.3 91.9L387.9 92.9L387.8 94.9L387.3 95.6ZM405.8 104L402.8 104.2L400.3 104L399.2 103.4L398.9 102.9L398.8 101.9L399.5 100.9L401.3 100.1L403.8 99.8L405.3 99.9L407.1 100.9L407.8 101.9L407.3 103.3L405.8 104ZM398.8 128L391.8 128L386.8 126.9L386.8 116.7L391.8 116.8L399.3 117.9L403.3 119.3L405.1 120.4L405.8 121.4L406.3 122.9L405.8 124.4L403.5 126.4L398.8 128Z"/>
<path fill="#ef2b36" fill-rule="evenodd" d="M571.3 103.9L565.3 103.9L561.3 102.8L557 100.4L553.7 97.4L553.4 96.4L554.2 95.4L556.6 93.9L563.3 91L567.8 90.2L569.3 90.3L570.8 90.8L573.8 92.4L578.2 95.9L579.4 97.4L580.1 99.4L579.6 100.9L577.8 102.7L571.3 103.9ZM404.8 102.9L401.3 103L400.7 102.9L400.3 102.4L400.8 101.8L404.3 101.6L404.8 101.8L405.2 102.4L404.8 102.9ZM397.3 123.4L396.8 123.7L394.8 123.6L394.1 122.9L394.3 122.4L394.8 122.2L396.8 122.2L397.4 122.9L397.3 123.4Z"/>
<path fill="#a3001c" fill-rule="evenodd" d="M568.8 102.4L565 102.4L561.3 101.4L558.2 99.4L557.8 98.4L557.9 97.4L559.9 94.9L563.8 92.9L565.3 92.7L568.3 92.7L570.3 93.3L573.3 95.4L574.3 96.4L575.1 97.9L575.3 99.4L574.7 100.4L572.8 101.7L568.8 102.4Z"/>
<clipPath id="hb">
<path d="M434.9 115.8L438.9 107.9L444.9 103.9L451.9 101.9L455.9 103.9L457.8 112.8L460.8 118.8L470.8 118.8L471.8 108.9L480.8 109.9L484.7 106.9L490.7 107.9L490.7 130.8L448.9 130.8L441.9 129.3L434.9 121.8ZM480.8 91.9L487.7 91.9L487.7 96.4L484.7 96.9ZM481 91.9L488 88.9L493.9 88.9L498.9 94.9L502.4 102.9L500.9 104.9L496.9 103.9L491 98.4L485 97.4L481 96.4ZM479 111.9L493 113.3L500.9 116.8L508.9 121.8L509.4 125.8L503.9 127.8L491 127.8L479 128.8ZM519.3 81L521.8 78.5L527.8 78.5L527.8 81L524.8 83L520.3 83.5ZM386.8 142.4L393.8 141.7L401.1 143.1L401.8 149L396.7 153.4L400.3 159.2L399.6 161.4L393.8 165L393 173.8L386.8 176.7ZM392 122.8L395 121.4L399.9 123.3L404.4 122.8L403.9 124.8L401.4 127.3L396 126.8ZM388 103.4L390 103.4L390 105.4L388 105.4ZM392 142.3L397 142.3L400.9 148.7L392 148.7ZM634.6 98.4L639 96.2L647.8 98.4L647.8 101.3L639 102.8ZM652.9 110.8L660.9 104.2L670.8 98.4L670.8 105.7L663.8 111.5L655.1 115.9ZM527.6 163.9L532.4 162.4L533.2 165L528.5 166.8Z"/>
</clipPath>
<path clip-path="url(#hb)" d="M402.4 101.9L431.3 130.8M407.3 101.9L436.1 130.8M412.1 101.9L441 130.8M417 101.9L445.9 130.8M421.9 101.9L450.8 130.8M426.8 101.9L455.7 130.8M431.7 101.9L460.5 130.8M436.5 101.9L465.4 130.8M441.4 101.9L470.3 130.8M446.3 101.9L475.2 130.8M451.2 101.9L480.1 130.8M456.1 101.9L484.9 130.8M460.9 101.9L489.8 130.8M465.8 101.9L494.7 130.8M470.7 101.9L499.6 130.8M475.6 101.9L504.5 130.8M480.4 101.9L509.3 130.8M485.3 101.9L514.2 130.8M490.2 101.9L519.1 130.8M475.4 91.9L480.3 96.9M480.2 91.9L485.2 96.9M485.1 91.9L490.1 96.9M462.6 88.9L478.6 104.9M467.5 88.9L483.4 104.9M472.4 88.9L488.3 104.9M477.3 88.9L493.2 104.9M482.1 88.9L498.1 104.9M487 88.9L502.9 104.9M491.9 88.9L507.8 104.9M496.8 88.9L512.7 104.9M501.7 88.9L517.6 104.9M461.1 111.9L478.1 128.8M466 111.9L482.9 128.8M470.9 111.9L487.8 128.8M475.8 111.9L492.7 128.8M480.6 111.9L497.6 128.8M485.5 111.9L502.5 128.8M490.4 111.9L507.3 128.8M495.3 111.9L512.2 128.8M500.2 111.9L517.1 128.8M505 111.9L522 128.8M510.7 78.5L515.7 83.5M515.6 78.5L520.6 83.5M520.5 78.5L525.4 83.5M525.3 78.5L530.3 83.5M349.5 141.7L384.5 176.7M354.3 141.7L389.4 176.7M359.2 141.7L394.3 176.7M364.1 141.7L399.1 176.7M369 141.7L404 176.7M373.9 141.7L408.9 176.7M378.7 141.7L413.8 176.7M383.6 141.7L418.7 176.7M388.5 141.7L423.5 176.7M393.4 141.7L428.4 176.7M398.3 141.7L433.3 176.7M382.8 121.4L388.8 127.3M387.7 121.4L393.7 127.3M392.6 121.4L398.5 127.3M397.4 121.4L403.4 127.3M402.3 121.4L408.3 127.3M384.4 103.4L386.4 105.4M389.3 103.4L391.3 105.4M384.2 142.3L390.7 148.7M389.1 142.3L395.6 148.7M394 142.3L400.4 148.7M398.8 142.3L405.3 148.7M626 96.2L632.6 102.8M630.9 96.2L637.5 102.8M635.8 96.2L642.3 102.8M640.6 96.2L647.2 102.8M645.5 96.2L652.1 102.8M633.1 98.4L650.6 115.9M638 98.4L655.5 115.9M642.8 98.4L660.4 115.9M647.7 98.4L665.2 115.9M652.6 98.4L670.1 115.9M657.5 98.4L675 115.9M662.4 98.4L679.9 115.9M667.2 98.4L684.7 115.9M521.4 162.4L525.8 166.8M526.3 162.4L530.7 166.8M531.2 162.4L535.6 166.8" stroke="#a8283a" stroke-width="0.9" fill="none"/>
<path clip-path="url(#clipb)" d="M385.1 166.5L387.1 166.3L393.1 165.8L400 165.3L409 165.3L411.5 167.3L413 170.3L418 173.8L420.5 175.8L423.4 174.3L422.5 176L419 176.8L421 179.8L424.9 181.8L428.9 180.8L430.4 176.8L431.1 176.1L431.9 180.8L432.4 187.1M432.5 186L434.3 193.3L436.5 200.6L439.4 207.9L442.3 215.2L443.8 221.1M456.2 221.1L456.9 213.8L457.6 205L458.8 199.9L462 198.4L465.7 196.2L467.9 191.1L473.7 187.5L479.5 183.8L482.5 179.4L486.1 178M477.9 184.8L479.1 184.6L481.3 181.6L484.9 179.4L486.4 178L490 178.4L493.7 176.5L498.1 174.3L500.3 177.3L502.5 181.6L506.1 186.3L507.6 190.4L509 194.8L509 198.4L513.4 199.2L517.8 195.5L520 199.2L522.2 206.5L523.6 213.8L524.6 221.1M525.5 221.1L527.3 213.8L528.7 208.6L530.9 207.6L533.1 210.1L536.8 211.6L540.4 215.2L544.1 218.9L545.5 221.1M552.1 221.1L557.9 216.7L560.9 212.3L561.6 206.5L559.4 200.6L555 194.8L550.6 190.4L548.4 187.5L549.2 183.8L552.1 180.9L556.5 178.7L560.1 178.4L563 180.2L563.8 183.1L565.2 181.6L566.7 179.4L572.5 177.3L579.1 175.1M559.1 187.2L560.6 184.8L563.8 184L567 185.3L567.3 187.8L565.2 190.1L562 190.7L559.7 189.5ZM502.5 213.2L503.3 207.9M579.1 175.1L579.9 175.8L585.7 173.6L590.1 171.7L593 169.7M592.1 168.6L593.7 166.7L597.7 161.4L601 156.1L605 152.1L607 148.8L603 147.5L601.7 148.1L605 145.5L606.3 142.8L604.3 139.5L603 136.2L599.7 133.5L597 130.9L599 128.2L603 125.5L607.7 124.2L608.3 122.9L605 122.6L600.4 123.6L596.4 122.9L593.1 120.2L591.1 117.6L592.4 116L596.4 115.6L600.4 112.9L603 110.9L606.3 110.3L607.7 111.6L605.7 113.6L604.3 116.3L607.7 115.6L611.6 114.3L615.6 114.3L618.3 115.6L618.9 118.9L617.6 120.9L621.6 122.2L623.6 125.5L622.9 129.5L623.6 132.2L626.9 131.5M671.8 50.5L666.7 52.5L661.6 55.4L657.2 58.1L653.6 60.2L656.5 61L658.7 62.1L659.9 64.2L661.9 63.9L664.5 62.7L667.5 62.4L671.8 62.9M661.9 60.7L663.4 59.8L664.2 61.3L663.1 62.7ZM668.6 105.1L671.8 103.9M621.1 121.6L621.6 125.3L622.6 127.8L622.1 130.7L622.6 132.9L624.6 132.2L627.1 131.2L630 130.7L632 129.7L633 127.3L632.5 124.3L631 121.8L629.1 119.3L627.1 116.8L625.6 115.3L625.6 113.8L628.1 112.6L630.5 111.4L633 109.9L633.5 107.4L635 105.4L637.5 103.9L640.5 101.9L642.5 101.4L644.5 102.7L646.9 102.9L649.9 101.9L652.9 100.4L655.9 97.4L658.9 95.4L661.9 93L664.8 90L667.3 87L668.8 85M633.5 137.7L635.5 136.2L637.5 135.2L639.5 135.7L640.5 137.7L641 140.2L640 142.7L638 144.5L636 144.5L635.5 142.2L636 140.2L634.5 139.2ZM638 134.7L640 133.2L642.5 131.2L646 129.5L649.9 128.7L653.4 128.3L655.4 127.8L656.9 126.3L658.4 123.8L659.9 122.3L660.9 123.3L662.4 122.8L665.3 121.3L667.8 119.3L669.8 116.8L671.3 114.8M641.5 135.7L644 133.9L647.4 132.7L650.9 131.9L653.9 132.2L654.4 134.2L655.4 136.2L656.9 134.7L658.4 132.2L660.9 131.7L663.3 130.7L666.3 131.2L668.3 130.2L671.3 129.5M643.5 136.7L645 135.2L647.4 133.7L650.9 133.2L652.4 133.7L651.9 135.2L649.4 136.5L646.4 137.5L644.5 138.2ZM632.9 155.4L633.9 154.5M627.6 162.1L629.3 160.3M600.5 173.9L600.8 170.5L602.5 167L605 165.2L606.8 166.5L606 170.5L604 174.4L602.5 176.9L601 175.4ZM601.5 189.9L604 189.1L606 190.4L607.5 190.1L608 192.8L608.8 195.3L607.5 197.8L605.5 200.3L605 202.8L606 205.3L608.5 205.8L610.5 206.3L612.5 206.8L613.5 208.8L611.5 208.6L609.5 207.8L607.5 207L605.5 206.8L604 204.8L602.5 205.3L601.5 203.8L600 202.8L599.8 199.8L599.1 198.3L600 195.8L601 192.8ZM602 208.8L603.5 207.8L605 209.3L604.5 211.7L603 212.2L602 210.8ZM615.5 211.7L617.5 210.8L619.4 212.2L619.4 215.2L618 216.7L616 216.2L616.5 214.2L615.5 213.2ZM606.5 213.7L608.5 213.2L610.5 214.7L611.5 216.7L613 217.7L614.5 219.2L613.5 220.7L609 220.7L607 216.7ZM596.1 220.2L597.6 215.5L598.9 220.2M541.6 72.2L544.8 70.9L550.3 68L556.2 63.6L560.6 58.8L562.3 56.7L563.8 57.5L563.5 60.7L560.6 64.6L555.3 68.6L550.6 71.2L546.5 73.2L543.6 73.5ZM434 93.4L435.5 91.4L437.5 89.9L443 89.1L449 89.7L455 89.2L454.5 90.1L450 90.7L444 90.4L439 91.1L437.5 92.9L437 95.4L435.5 94.9L434.5 93.9ZM385.4 89.8L388.9 90.5L392.4 89.5L391.4 92L390.9 94L392.9 95.5L391.4 97.5L389.4 99.5L385.4 100.7" stroke="#000" stroke-width="0.95" fill="none" stroke-linejoin="round"/>
<rect x="422.3" y="77.9" width="124.2" height="53.2" fill="none" stroke="#fb0007" stroke-width="3.5"/>
<rect x="386.8" y="42.4" width="284" height="177.5" fill="none" stroke="#111" stroke-width="1.55"/>
<path d="M386.8 219.9v6.5M386.8 42.4v-6.5M422.3 219.9v6.5M422.3 42.4v-6.5M457.8 219.9v6.5M457.8 42.4v-6.5M493.3 219.9v6.5M493.3 42.4v-6.5M528.8 219.9v6.5M528.8 42.4v-6.5M564.3 219.9v6.5M564.3 42.4v-6.5M599.8 219.9v6.5M599.8 42.4v-6.5M635.3 219.9v6.5M635.3 42.4v-6.5M670.8 219.9v6.5M670.8 42.4v-6.5M386.8 42.4h-6.5M670.8 42.4h6.5M386.8 60.1h-3.2M670.8 60.1h3.2M386.8 77.9h-6.5M670.8 77.9h6.5M386.8 95.7h-3.2M670.8 95.7h3.2M386.8 113.4h-6.5M670.8 113.4h6.5M386.8 131.2h-3.2M670.8 131.2h3.2M386.8 148.9h-6.5M670.8 148.9h6.5M386.8 166.7h-3.2M670.8 166.7h3.2M386.8 184.4h-6.5M670.8 184.4h6.5M386.8 202.2h-3.2M670.8 202.2h3.2M386.8 219.9h-6.5M670.8 219.9h6.5" stroke="#111" stroke-width="1.4" fill="none"/>
<text x="386.8" y="242.9" text-anchor="middle" font-size="10.6" font-family="Liberation Sans, sans-serif" stroke="#000" stroke-width="0.25">60<tspan font-size="7.4" dy="-5.1" dx="0.3">o</tspan><tspan dy="5.1" dx="0.4">E</tspan></text>
<text x="422.3" y="242.9" text-anchor="middle" font-size="10.6" font-family="Liberation Sans, sans-serif" stroke="#000" stroke-width="0.25">70<tspan font-size="7.4" dy="-5.1" dx="0.3">o</tspan><tspan dy="5.1" dx="0.4">E</tspan></text>
<text x="457.8" y="242.9" text-anchor="middle" font-size="10.6" font-family="Liberation Sans, sans-serif" stroke="#000" stroke-width="0.25">80<tspan font-size="7.4" dy="-5.1" dx="0.3">o</tspan><tspan dy="5.1" dx="0.4">E</tspan></text>
<text x="493.3" y="242.9" text-anchor="middle" font-size="10.6" font-family="Liberation Sans, sans-serif" stroke="#000" stroke-width="0.25">90<tspan font-size="7.4" dy="-5.1" dx="0.3">o</tspan><tspan dy="5.1" dx="0.4">E</tspan></text>
<text x="528.8" y="242.9" text-anchor="middle" font-size="10.6" font-family="Liberation Sans, sans-serif" stroke="#000" stroke-width="0.25">100<tspan font-size="7.4" dy="-5.1" dx="0.3">o</tspan><tspan dy="5.1" dx="0.4">E</tspan></text>
<text x="564.3" y="242.9" text-anchor="middle" font-size="10.6" font-family="Liberation Sans, sans-serif" stroke="#000" stroke-width="0.25">110<tspan font-size="7.4" dy="-5.1" dx="0.3">o</tspan><tspan dy="5.1" dx="0.4">E</tspan></text>
<text x="599.8" y="242.9" text-anchor="middle" font-size="10.6" font-family="Liberation Sans, sans-serif" stroke="#000" stroke-width="0.25">120<tspan font-size="7.4" dy="-5.1" dx="0.3">o</tspan><tspan dy="5.1" dx="0.4">E</tspan></text>
<text x="635.3" y="242.9" text-anchor="middle" font-size="10.6" font-family="Liberation Sans, sans-serif" stroke="#000" stroke-width="0.25">130<tspan font-size="7.4" dy="-5.1" dx="0.3">o</tspan><tspan dy="5.1" dx="0.4">E</tspan></text>
<text x="670.8" y="242.9" text-anchor="middle" font-size="10.6" font-family="Liberation Sans, sans-serif" stroke="#000" stroke-width="0.25">140<tspan font-size="7.4" dy="-5.1" dx="0.3">o</tspan><tspan dy="5.1" dx="0.4">E</tspan></text>
<text x="373.4" y="46.3" text-anchor="end" font-size="10.6" font-family="Liberation Sans, sans-serif" stroke="#000" stroke-width="0.25">60<tspan font-size="7.4" dy="-5.1" dx="0.3">o</tspan><tspan dy="5.1" dx="0.4">N</tspan></text>
<text x="373.4" y="81.8" text-anchor="end" font-size="10.6" font-family="Liberation Sans, sans-serif" stroke="#000" stroke-width="0.25">50<tspan font-size="7.4" dy="-5.1" dx="0.3">o</tspan><tspan dy="5.1" dx="0.4">N</tspan></text>
<text x="373.4" y="117.3" text-anchor="end" font-size="10.6" font-family="Liberation Sans, sans-serif" stroke="#000" stroke-width="0.25">40<tspan font-size="7.4" dy="-5.1" dx="0.3">o</tspan><tspan dy="5.1" dx="0.4">N</tspan></text>
<text x="373.4" y="152.8" text-anchor="end" font-size="10.6" font-family="Liberation Sans, sans-serif" stroke="#000" stroke-width="0.25">30<tspan font-size="7.4" dy="-5.1" dx="0.3">o</tspan><tspan dy="5.1" dx="0.4">N</tspan></text>
<text x="373.4" y="188.3" text-anchor="end" font-size="10.6" font-family="Liberation Sans, sans-serif" stroke="#000" stroke-width="0.25">20<tspan font-size="7.4" dy="-5.1" dx="0.3">o</tspan><tspan dy="5.1" dx="0.4">N</tspan></text>
<text x="373.4" y="223.8" text-anchor="end" font-size="10.6" font-family="Liberation Sans, sans-serif" stroke="#000" stroke-width="0.25">10<tspan font-size="7.4" dy="-5.1" dx="0.3">o</tspan><tspan dy="5.1" dx="0.4">N</tspan></text>
</g>
<clipPath id="clipc"><rect x="37.4" y="365.8" width="284" height="177.5"/></clipPath>
<g id="map-c">
<rect x="37.4" y="365.8" width="284" height="177.5" fill="#2a08d2"/>
<path fill="#2d5af0" fill-rule="evenodd" d="M321.4 543.3L37.4 543.3L37.4 497.1L41.4 495.4L46.9 492.4L54.4 487L56.1 485.3L58.3 482.3L58.6 481.3L58.6 478.8L58.4 475.8L56.6 468.3L55.4 466.2L51.9 461.8L49.9 460.8L47.7 460.3L37.4 459.6L37.4 433.1L45.4 434.6L52.9 434.4L54.9 433.8L56 432.8L56 432.3L55.4 431.6L49.4 429.8L47.1 428.3L46.7 426.8L47.1 425.8L47.9 424.9L50.9 423L51.9 422.6L53.4 422.4L55.9 422.4L59.4 423.7L63.4 424.5L65.9 424.3L70 422.8L72.7 420.8L74 419.3L74.7 416.8L74.5 415.8L73.9 415L70.4 412.5L60.4 408.3L53.9 406L49.4 403.2L47.4 403.1L45.4 403.5L41.9 405.8L38.9 408.3L37.4 409L37.4 365.8L321.4 365.8L321.4 543.3ZM106.5 453.3L159.4 453.2L163 452.8L165.9 452.1L171.3 449.3L172.7 447.8L173.6 446.3L173.6 444.8L173.1 443.3L170.5 438.3L170.4 437.3L170.8 436.3L172.4 435L177.4 432.8L180.4 430.8L181.4 429.1L181.5 427.3L180.9 426.3L179.9 425.7L171.4 422.9L153.4 419.1L146.9 419L143.1 420.3L141.4 421.4L138.9 424.5L136.9 426.5L135.9 427.1L134.9 427.3L129.9 426.8L116.9 424.2L106.9 424.1L104.4 422.9L98.8 424.3L96.3 425.3L91.4 427.8L87.8 431.3L86.9 432.8L85.5 437.3L85.3 438.8L85.4 440.8L87.4 445.8L88.4 447.6L92.9 451.4L94.4 452L99.9 452.7L102.9 453.4L106.5 453.3ZM69 481.8L71.7 480.3L72.1 479.3L72.6 476.8L71.9 475.5L69.9 474.3L68.9 474.1L67.9 474.6L66.7 475.8L66 477.3L67.4 481.3L67.9 481.8L69 481.8Z"/>
<path fill="#4ba6ff" fill-rule="evenodd" d="M321.4 543.3L37.4 543.3L37.4 499.3L42.4 498.2L44.9 497.4L50.5 494.8L56.4 490.8L57.9 490.2L62.9 490.2L68.9 493L71.4 493L72.9 492.7L74.2 491.3L76.5 486.8L77.9 482.3L78.4 479.8L77.1 475.3L75.9 473.6L70.9 471L64.9 469.2L58.9 463.7L52.9 460L50.9 459.5L42.9 459.2L37.4 458.6L37.4 435.5L46.9 436.4L53.9 436.1L55.9 435.5L57.4 434.4L58.3 433.3L59.6 429.3L60.9 427.7L61.9 427.3L65.4 426.9L69.4 425.1L71.8 423.8L74.8 421.3L76.2 419.3L77 415.3L76.5 413.8L74.9 411.8L67.9 407.1L62.4 404.2L55.9 401.6L51.4 399.2L47.9 399.1L45.9 399.7L42.4 401.5L38.9 404.3L37.4 405L37.4 365.8L321.4 365.8L321.4 543.3ZM104.1 455.3L106.4 454.6L108.4 454.4L160.4 454.4L168.9 453.6L173.9 452.4L175.9 451.3L177.9 449.8L178.9 448.3L179.3 446.8L179.2 444.8L176.3 438.3L176.2 436.8L177.3 435.3L181.4 432.3L182.7 430.8L184 428.3L184.2 426.8L183.9 425.8L182.8 424.3L179.9 422.8L175.9 422.5L154.9 415.8L146.4 414.2L142.9 413.9L139.9 413.1L133.9 413.7L128.9 414.7L128 415.3L126.6 417.3L124.9 418.8L122.4 420.4L119.4 421.8L107.4 421.9L104.4 420.6L97.4 422.6L90.4 425.7L85.7 430.3L84.7 432.3L83.5 436.8L83.2 438.8L83.5 440.8L84.2 443.3L86.6 448.8L89.4 452.9L91.3 454.8L93.4 455.3L104.1 455.3ZM51.4 428.4L49.4 427.8L48.7 427.3L48.3 426.3L48.9 425.3L51.4 423.6L52.9 423.2L55.9 423.3L57.4 424.3L58.2 425.3L58 426.3L56.9 427L55.4 427.6L51.4 428.4Z"/>
<path fill="#9ee9ff" fill-rule="evenodd" d="M321.4 543.3L37.4 543.3L37.4 502.6L44.4 500.2L48.4 497.9L54.9 494.8L59.9 493.2L61.9 493.3L65.4 495.4L66.9 495.9L70.4 495.9L72.4 495.4L74.4 494.2L77.5 491.8L82 486.8L85.2 481.3L85.9 478.8L85.4 474.3L84.4 472L77.9 467L74.9 462.9L71.9 460.5L70 459.3L64.9 458.1L59.9 458.6L55.4 458.3L44.4 458.7L37.4 457.9L37.4 437L49.9 437.6L55.4 437.5L57.4 436.9L63.9 431.4L69.9 427.8L76.4 422.7L77.4 421.7L79.6 418.3L83.9 414L86.9 411.5L87.6 410.3L87.4 409.3L86.4 408.3L81.9 406.9L77.4 405L70.4 400.6L61.4 396.6L54.9 394.7L49.4 394.6L47.4 395L42.4 396.7L38.4 399.2L37.4 399.6L37.4 365.8L321.4 365.8L321.4 543.3ZM105.4 456.3L106.9 455.6L108.4 455.4L159.9 455.4L168.4 455.2L176.4 454.4L199.3 454.3L200.1 453.8L200.6 452.3L200.6 433.3L201.1 431.8L202.8 429.3L202.8 427.8L202.1 426.8L201.2 426.3L194.9 425.5L193.4 425L186.4 421.2L184.9 419.9L181 415.3L171.9 406.3L169.9 405.3L161.4 402.8L159.4 402.6L151.4 402.6L142.4 403.7L128.9 405.7L125.9 406.8L115.9 409.2L106.9 413L98.4 418.2L93.4 420.8L87.4 424.8L83.4 429.3L73.8 442.3L72.9 444.3L72.7 452.3L73.2 453.8L73.9 454.3L79.4 454.6L83.4 455.9L88.9 456.1L92.4 456.7L103.4 456.7L105.4 456.3ZM52.4 427.4L50.9 427.5L50.1 427.3L49.4 426.7L49.4 425.8L51.4 424.3L52.9 423.8L55.4 423.8L56.9 424.8L57 425.8L56.4 426.3L52.4 427.4Z"/>
<path fill="#e9feff" fill-rule="evenodd" d="M321.4 543.3L37.4 543.3L37.4 527.6L39 526.8L43.4 522.6L44.9 520.6L46.6 517.3L46.8 515.8L46.6 514.8L44.1 510.3L43.7 508.8L43.9 507.8L47 502.8L47.4 500.8L47.7 500.3L50 498.8L51.9 498.1L55.4 498.5L59.4 498.1L60.9 498.6L62.4 500.6L63.4 500.9L66.9 498.7L72.4 498.2L80.4 495.3L87.4 491.5L90.4 489.3L94.9 483.3L98.4 474.5L99.4 472.8L100.4 472.1L103.9 471.9L105.4 471.3L106 469.8L106.2 466.3L106.7 465.3L107.4 464.7L113.9 462.1L123.4 461.4L136.4 460L140.4 460L152.9 461.4L162.4 462L173.4 464.5L178.4 464.4L182.9 464L190.4 464L194.4 464.4L197.4 464.3L202.4 463.4L211.9 460.4L222.8 455.3L223.6 454.3L223.4 453.4L222.9 452.9L221.9 452.7L216.9 452.6L215.9 452.1L215.6 451.3L215.7 448.3L214.5 446.3L213 444.8L211.4 444.2L205.9 443.4L204.4 442.5L202.9 440.8L202.4 438.8L203.3 435.8L204.4 434.6L207.9 432.2L208.5 431.3L208.7 429.8L208.2 428.3L206.4 425.7L205.4 424.8L203.4 423.9L202.8 423.3L202.1 421.3L201.9 419.8L202.2 418.3L202.7 417.3L203.9 416.5L206.9 416L211.4 415.9L224.4 414.2L225.1 413.8L225.3 412.8L224.9 412L221.9 411.3L213.6 407.8L204.1 402.8L203 401.8L201.9 399.3L200.9 398.6L194.7 396.8L187.4 392.9L177.4 390.7L171.4 390.6L159.4 389.7L146.4 389.5L143.9 389.8L136.9 391L133.9 391.1L125.9 390.2L121.9 390.1L111.9 391.3L106.9 392.7L98.4 394.5L94.4 394.6L92.1 393.8L83.4 387.2L77.9 384.1L67.4 382.2L61.4 382.1L58.9 382.3L48.4 384.5L41.9 387.8L38.4 390.9L37.4 391.4L37.4 365.8L321.4 365.8L321.4 543.3ZM52.4 426.4L50.9 426.4L50.9 425.8L52.9 424.7L54.9 424.7L55.6 425.3L55 425.8L52.4 426.4ZM47.9 457.8L42.9 457.9L37.4 457L37.4 438.4L44.4 438.5L55.9 439.5L62.9 441.4L63.9 441.9L65.3 443.3L66.6 445.3L66.6 446.8L64.2 450.3L62.3 452.3L59.3 454.8L57.4 455.7L52 457.3L47.9 457.8Z"/>
<path fill="#fffeea" fill-rule="evenodd" d="M38.9 375.3L37.4 375.5L37.4 365.8L57.9 365.8L57.4 366.6L56.1 367.8L50.8 371.8L44.4 374.2L38.9 375.3ZM321.4 543.3L37.4 543.3L37.4 529.1L39.4 528.4L41.1 527.3L45.3 522.3L47.6 518.3L49 514.3L49.2 512.8L46.8 507.3L46.8 505.8L47.9 504.2L49.9 503L50.9 502.8L51.9 502.9L56.9 506.4L58.9 507.1L60.4 506.9L68.4 504.8L73.4 503.1L80.4 498.3L88.9 494.4L96.9 490.2L98.9 489.6L109.9 489.5L111.4 490.1L117.9 493.8L119.4 494.4L125.4 494.5L127.4 494.1L128.6 492.8L129.1 491.3L129.1 480.3L128.4 478.5L124.9 473.3L124 471.3L123.2 467.3L123.4 466.8L124.4 466.2L127.9 465.4L129.9 464.4L131.4 464.1L146.4 465.7L148.4 466.4L156.4 470.5L161.3 474.8L162.9 475.7L173.4 478.8L183.4 480.1L185.4 479.5L189.4 476.8L196.7 467.3L198.4 465.8L215.3 460.8L223 459.3L224 458.3L224.8 454.8L224.5 451.8L224.7 449.8L224.4 449L223.4 448.6L220.9 448.5L219.9 448L219.5 447.3L219.4 445.8L218.9 444.6L213.9 441.1L212.9 440.8L206.9 440.5L205.9 440.1L205 439.3L204.7 438.3L205 436.8L205.8 435.8L208.9 433.3L209.7 431.8L210 429.8L209.5 427.8L207.4 422.8L206.4 422.1L204.4 421.5L203.6 420.8L203.4 419.8L203.9 418.9L204.9 418.6L209.4 418.4L212.9 417.5L218.9 416.8L230.4 416.6L235.4 416.1L239.9 416.6L246.4 415.6L248.4 416.1L256.9 419.3L259.4 419.5L267.4 416.6L275.1 412.8L276.5 411.8L279.9 407.8L280.9 407.3L289.9 406.4L299.9 404.4L307.9 401.4L309.4 400.4L310.1 399.3L310.7 397.3L310.4 395.8L308.4 393.1L297.7 381.3L297.1 379.8L297.9 375.8L301 365.8L321.4 365.8L321.4 543.3ZM103.9 369.4L102.4 369.6L99.4 369.3L98.4 368.3L98.6 367.3L99 366.8L99.9 366.5L103.9 366.6L104.9 367.3L105.2 368.3L104.9 368.8L103.9 369.4ZM48.9 456.8L43.4 457.2L37.4 456L37.4 439.6L44.9 439.7L55.8 441.3L61.9 442.8L63.4 443.7L64.4 444.8L64.7 446.3L64 447.8L61.9 450.4L58.4 453.3L56.9 454.2L53 455.8L48.9 456.8Z"/>
<path fill="#fdd39b" fill-rule="evenodd" d="M236.9 432.8L231.9 433L224.9 431.8L215.9 429.1L212.4 427.2L210.9 425.8L209.7 423.3L209.4 422.3L209.5 421.3L210.8 419.8L212.6 418.8L219.4 417.9L229.4 418.1L232.4 418.7L238.4 420.4L244.2 424.3L245 425.8L245.3 428.3L244.5 429.8L241.9 431.9L240.4 432.4L236.9 432.8ZM221.4 483.8L217.9 483.8L211.9 482.8L210.4 482.3L205.3 478.8L203.5 476.3L203.3 474.8L203.7 473.8L204.4 473.1L205.9 472.9L207.9 473.7L210.5 475.8L213.4 476.9L216.4 477.1L220.9 476.5L224.9 475.3L229.8 473.3L234.9 468.4L235.7 466.8L236.2 463.8L236 462.3L235.4 461.4L233.9 461L226.9 460.9L225.9 460.5L225.4 459.8L225.9 454.8L225.6 451.8L226.5 446.8L227.2 445.8L228.9 444.7L235.4 442.1L242.4 440.6L243.9 440.7L246.4 441.5L248.9 441.8L251.4 443.8L256.9 445L258.9 444.8L262.4 443.1L263.4 443L264 443.3L264.7 444.3L265.7 448.3L269.9 456.6L272.9 461.3L272.7 463.3L270.9 466.8L269.9 468.2L267.9 469.6L263.9 471.7L254.4 472.7L245.4 477.1L235.9 480.5L232.9 481.4L221.4 483.8ZM46.4 453.8L43.4 454L37.4 453.5L37.4 441.7L41.4 441.8L50.9 443.2L55.9 444.5L57.4 445.8L57.8 447.3L57.6 448.3L56.6 449.8L55.4 450.9L50.4 453.1L46.4 453.8ZM142.4 477.3L139.4 477.2L138.7 476.8L138.6 476.3L138.9 475.9L141.9 475.9L142.6 476.3L142.7 476.8L142.4 477.3Z"/>
<path fill="#fb825a" fill-rule="evenodd" d="M228.9 426.4L223.4 426.6L216.9 426.3L213.9 425.2L213.1 424.3L213 423.3L213.9 422L215.9 420.8L219.9 420.6L221.9 420.7L227.4 422.1L230.1 423.3L230.6 424.3L230.5 425.3L229.9 426L228.9 426.4Z"/>
<clipPath id="hc">
<path d="M76 443.8L84.9 430.9L92.9 426.9L102.9 425.9L111.8 426.9L117.8 422.9L120.8 414.9L127.8 408L131.8 406L141.7 403L141.7 458.8L109.8 458.8L99.9 456.8L87.9 456.8L77.5 451.3ZM121.9 417L126.3 409.7L133.6 406.1L148.2 403.9L158.4 398.8L161.3 396.3L193.4 395.8L197.5 398L194.9 406.8L193.4 412.6L190.5 425.8L181.8 424.3L175.9 427.2L173.7 438.9L170.1 444.8L121.9 444.8ZM198.5 406L202.9 404.8L208.9 409.5L203.9 411.1L199.9 411.9ZM178 415.9L186 420.4L191 425.9L188 426.9L178 419.9ZM49.9 433.4L54.9 432.4L55.4 434.4L50.9 435.9ZM36 461.8L42 461.8L45.5 471.7L36 471.7ZM65.9 465.3L68.9 465.3L70.4 471.7L65.9 471.7ZM77.9 452.1L105.6 452.1L101.2 462.3L99 464.1L92.5 461.6ZM37 460.8L42.8 460.1L46.1 466.7L46.1 484.2L37 487.8ZM66.2 466.4L74.2 467.8L81.5 470.3L82.5 475.4L76.4 484.2L67.7 486.8L64.4 483L66.9 475.4ZM161.1 510.2L173.1 501.4L175 503.2L162.4 512.7ZM178.6 522.4L183.7 521L184.6 523.3L179.6 524.2ZM151.9 455L165 455L163.6 459.4L159.2 460.1ZM263.6 509L289.2 493.7L299.4 501L297.9 504.6L281.9 514.1L265.8 513.4ZM246.1 496.6L251.2 498.8L258.5 493.2L259.7 497.3L252.9 503.5L249 502ZM263.6 459.1L273.1 456.2L274 460.3L265.8 461.7ZM289.9 427.2L300.8 422.6L312.5 421.1L317.2 423.6L309.6 431.6L297.9 443.6L292.1 438.9Z"/>
</clipPath>
<path clip-path="url(#hc)" d="M19.4 403L75.2 458.8M23.7 403L79.4 458.8M27.9 403L83.7 458.8M32.1 403L87.9 458.8M36.4 403L92.2 458.8M40.6 403L96.4 458.8M44.9 403L100.7 458.8M49.1 403L104.9 458.8M53.4 403L109.1 458.8M57.6 403L113.4 458.8M61.8 403L117.6 458.8M66.1 403L121.9 458.8M70.3 403L126.1 458.8M74.6 403L130.4 458.8M78.8 403L134.6 458.8M83.1 403L138.8 458.8M87.3 403L143.1 458.8M91.5 403L147.3 458.8M95.8 403L151.6 458.8M100 403L155.8 458.8M104.3 403L160.1 458.8M108.5 403L164.3 458.8M112.8 403L168.5 458.8M117 403L172.8 458.8M121.2 403L177 458.8M125.5 403L181.3 458.8M129.7 403L185.5 458.8M134 403L189.7 458.8M138.2 403L194 458.8M71.7 395.8L120.6 444.8M75.9 395.8L124.8 444.8M80.2 395.8L129.1 444.8M84.4 395.8L133.3 444.8M88.7 395.8L137.6 444.8M92.9 395.8L141.8 444.8M97.1 395.8L146.1 444.8M101.4 395.8L150.3 444.8M105.6 395.8L154.5 444.8M109.9 395.8L158.8 444.8M114.1 395.8L163 444.8M118.4 395.8L167.3 444.8M122.6 395.8L171.5 444.8M126.8 395.8L175.7 444.8M131.1 395.8L180 444.8M135.3 395.8L184.2 444.8M139.6 395.8L188.5 444.8M143.8 395.8L192.7 444.8M148.1 395.8L197 444.8M152.3 395.8L201.2 444.8M156.5 395.8L205.4 444.8M160.8 395.8L209.7 444.8M165 395.8L213.9 444.8M169.3 395.8L218.2 444.8M173.5 395.8L222.4 444.8M177.8 395.8L226.7 444.8M182 395.8L230.9 444.8M186.2 395.8L235.1 444.8M190.5 395.8L239.4 444.8M194.7 395.8L243.6 444.8M190.9 404.8L198.1 411.9M195.2 404.8L202.3 411.9M199.4 404.8L206.6 411.9M203.6 404.8L210.8 411.9M207.9 404.8L215.1 411.9M163.9 415.9L174.8 426.9M168.1 415.9L179.1 426.9M172.4 415.9L183.3 426.9M176.6 415.9L187.6 426.9M180.9 415.9L191.8 426.9M185.1 415.9L196.1 426.9M189.3 415.9L200.3 426.9M44.6 432.4L48.1 435.9M48.8 432.4L52.3 435.9M53.1 432.4L56.6 435.9M23.1 461.8L33 471.7M27.3 461.8L37.3 471.7M31.6 461.8L41.5 471.7M35.8 461.8L45.8 471.7M40 461.8L50 471.7M44.3 461.8L54.2 471.7M56.3 465.3L62.7 471.7M60.5 465.3L67 471.7M64.7 465.3L71.2 471.7M69 465.3L75.5 471.7M64.3 452.1L76.3 464.1M68.5 452.1L80.5 464.1M72.8 452.1L84.7 464.1M77 452.1L89 464.1M81.3 452.1L93.2 464.1M85.5 452.1L97.5 464.1M89.7 452.1L101.7 464.1M94 452.1L106 464.1M98.2 452.1L110.2 464.1M102.5 452.1L114.4 464.1M8.7 460.1L36.4 487.8M12.9 460.1L40.7 487.8M17.2 460.1L44.9 487.8M21.4 460.1L49.1 487.8M25.6 460.1L53.4 487.8M29.9 460.1L57.6 487.8M34.1 460.1L61.9 487.8M38.4 460.1L66.1 487.8M42.6 460.1L70.4 487.8M40.4 466.4L60.8 486.8M44.6 466.4L65.1 486.8M48.9 466.4L69.3 486.8M53.1 466.4L73.6 486.8M57.4 466.4L77.8 486.8M61.6 466.4L82.1 486.8M65.9 466.4L86.3 486.8M70.1 466.4L90.5 486.8M74.3 466.4L94.8 486.8M78.6 466.4L99 486.8M147.6 501.4L158.8 512.7M151.8 501.4L163.1 512.7M156.1 501.4L167.3 512.7M160.3 501.4L171.5 512.7M164.5 501.4L175.8 512.7M168.8 501.4L180 512.7M173 501.4L184.3 512.7M171.4 521L174.6 524.2M175.6 521L178.8 524.2M179.9 521L183.1 524.2M184.1 521L187.3 524.2M143.6 455L148.7 460.1M147.8 455L152.9 460.1M152.1 455L157.2 460.1M156.3 455L161.4 460.1M160.5 455L165.7 460.1M164.8 455L169.9 460.1M241.7 493.7L262.1 514.1M245.9 493.7L266.3 514.1M250.1 493.7L270.6 514.1M254.4 493.7L274.8 514.1M258.6 493.7L279.1 514.1M262.9 493.7L283.3 514.1M267.1 493.7L287.5 514.1M271.4 493.7L291.8 514.1M275.6 493.7L296 514.1M279.8 493.7L300.3 514.1M284.1 493.7L304.5 514.1M288.3 493.7L308.8 514.1M292.6 493.7L313 514.1M296.8 493.7L317.2 514.1M232.7 493.2L242.9 503.5M237 493.2L247.2 503.5M241.2 493.2L251.4 503.5M245.5 493.2L255.7 503.5M249.7 493.2L259.9 503.5M253.9 493.2L264.2 503.5M258.2 493.2L268.4 503.5M255 456.2L260.6 461.7M259.3 456.2L264.8 461.7M263.5 456.2L269.1 461.7M267.8 456.2L273.3 461.7M272 456.2L277.6 461.7M266.7 421.1L289.1 443.6M270.9 421.1L293.4 443.6M275.1 421.1L297.6 443.6M279.4 421.1L301.9 443.6M283.6 421.1L306.1 443.6M287.9 421.1L310.3 443.6M292.1 421.1L314.6 443.6M296.3 421.1L318.8 443.6M300.6 421.1L323.1 443.6M304.8 421.1L327.3 443.6M309.1 421.1L331.6 443.6M313.3 421.1L335.8 443.6" stroke="#a8283a" stroke-width="0.9" fill="none"/>
<path clip-path="url(#clipc)" d="M35.7 489.9L37.7 489.7L43.7 489.2L50.6 488.7L59.6 488.7L62.1 490.7L63.6 493.7L68.6 497.2L71.1 499.2L74 497.7L73.1 499.4L69.6 500.2L71.6 503.2L75.5 505.2L79.5 504.2L81 500.2L81.7 499.5L82.5 504.2L83 510.5M83.1 509.4L84.9 516.7L87.1 524L90 531.3L92.9 538.6L94.4 544.5M106.8 544.5L107.5 537.2L108.2 528.4L109.4 523.3L112.6 521.8L116.3 519.6L118.5 514.5L124.3 510.9L130.1 507.2L133.1 502.8L136.7 501.4M128.5 508.2L129.7 508L131.9 505L135.5 502.8L137 501.4L140.6 501.8L144.3 499.9L148.7 497.7L150.9 500.7L153.1 505L156.7 509.7L158.2 513.8L159.6 518.2L159.6 521.8L164 522.6L168.4 518.9L170.6 522.6L172.8 529.9L174.2 537.2L175.2 544.5M176.1 544.5L177.9 537.2L179.3 532L181.5 531L183.7 533.5L187.4 535L191 538.6L194.7 542.3L196.1 544.5M202.7 544.5L208.5 540.1L211.5 535.7L212.2 529.9L210 524L205.6 518.2L201.2 513.8L199 510.9L199.8 507.2L202.7 504.3L207.1 502.1L210.7 501.8L213.6 503.6L214.4 506.5L215.8 505L217.3 502.8L223.1 500.7L229.7 498.5M209.7 510.6L211.2 508.2L214.4 507.4L217.6 508.7L217.9 511.2L215.8 513.5L212.6 514.1L210.3 512.9ZM153.1 536.6L153.9 531.3M229.7 498.5L230.5 499.2L236.3 497L240.7 495.1L243.6 493.1M242.7 492L244.3 490.1L248.3 484.8L251.6 479.5L255.6 475.5L257.6 472.2L253.6 470.9L252.3 471.5L255.6 468.9L256.9 466.2L254.9 462.9L253.6 459.6L250.3 456.9L247.6 454.3L249.6 451.6L253.6 448.9L258.3 447.6L258.9 446.3L255.6 446L251 447L247 446.3L243.7 443.6L241.7 441L243 439.4L247 439L251 436.3L253.6 434.3L256.9 433.7L258.3 435L256.3 437L254.9 439.7L258.3 439L262.2 437.7L266.2 437.7L268.9 439L269.5 442.3L268.2 444.3L272.2 445.6L274.2 448.9L273.5 452.9L274.2 455.6L277.5 454.9M322.4 373.9L317.3 375.9L312.2 378.8L307.8 381.5L304.2 383.6L307.1 384.4L309.3 385.5L310.5 387.6L312.5 387.3L315.1 386.1L318.1 385.8L322.4 386.3M312.5 384.1L314 383.2L314.8 384.7L313.7 386.1ZM319.2 428.5L322.4 427.3M271.7 445L272.2 448.7L273.2 451.2L272.7 454.1L273.2 456.3L275.2 455.6L277.7 454.6L280.6 454.1L282.6 453.1L283.6 450.7L283.1 447.7L281.6 445.2L279.7 442.7L277.7 440.2L276.2 438.7L276.2 437.2L278.7 436L281.1 434.8L283.6 433.3L284.1 430.8L285.6 428.8L288.1 427.3L291.1 425.3L293.1 424.8L295.1 426.1L297.5 426.3L300.5 425.3L303.5 423.8L306.5 420.8L309.5 418.8L312.5 416.4L315.4 413.4L317.9 410.4L319.4 408.4M284.1 461.1L286.1 459.6L288.1 458.6L290.1 459.1L291.1 461.1L291.6 463.6L290.6 466.1L288.6 467.9L286.6 467.9L286.1 465.6L286.6 463.6L285.1 462.6ZM288.6 458.1L290.6 456.6L293.1 454.6L296.6 452.9L300.5 452.1L304 451.7L306 451.2L307.5 449.7L309 447.2L310.5 445.7L311.5 446.7L313 446.2L315.9 444.7L318.4 442.7L320.4 440.2L321.9 438.2M292.1 459.1L294.6 457.3L298 456.1L301.5 455.3L304.5 455.6L305 457.6L306 459.6L307.5 458.1L309 455.6L311.5 455.1L313.9 454.1L316.9 454.6L318.9 453.6L321.9 452.9M294.1 460.1L295.6 458.6L298 457.1L301.5 456.6L303 457.1L302.5 458.6L300 459.9L297 460.9L295.1 461.6ZM283.5 478.8L284.5 477.9M278.2 485.5L279.9 483.7M251.1 497.3L251.4 493.9L253.1 490.4L255.6 488.6L257.4 489.9L256.6 493.9L254.6 497.8L253.1 500.3L251.6 498.8ZM252.1 513.3L254.6 512.5L256.6 513.8L258.1 513.5L258.6 516.2L259.4 518.7L258.1 521.2L256.1 523.7L255.6 526.2L256.6 528.7L259.1 529.2L261.1 529.7L263.1 530.2L264.1 532.2L262.1 532L260.1 531.2L258.1 530.4L256.1 530.2L254.6 528.2L253.1 528.7L252.1 527.2L250.6 526.2L250.4 523.2L249.7 521.7L250.6 519.2L251.6 516.2ZM252.6 532.2L254.1 531.2L255.6 532.7L255.1 535.1L253.6 535.6L252.6 534.2ZM266.1 535.1L268.1 534.2L270 535.6L270 538.6L268.6 540.1L266.6 539.6L267.1 537.6L266.1 536.6ZM257.1 537.1L259.1 536.6L261.1 538.1L262.1 540.1L263.6 541.1L265.1 542.6L264.1 544.1L259.6 544.1L257.6 540.1ZM246.7 543.6L248.2 538.9L249.5 543.6M192.2 395.6L195.4 394.3L200.9 391.4L206.8 387L211.2 382.2L212.9 380.1L214.4 380.9L214.1 384.1L211.2 388L205.9 392L201.2 394.6L197.1 396.6L194.2 396.9ZM84.6 416.8L86.1 414.8L88.1 413.3L93.6 412.5L99.6 413.1L105.6 412.6L105.1 413.5L100.6 414.1L94.6 413.8L89.6 414.5L88.1 416.3L87.6 418.8L86.1 418.3L85.1 417.3ZM36 413.2L39.5 413.9L43 412.9L42 415.4L41.5 417.4L43.5 418.9L42 420.9L40 422.9L36 424.1" stroke="#000" stroke-width="0.95" fill="none" stroke-linejoin="round"/>
<rect x="72.9" y="401.3" width="124.2" height="53.2" fill="none" stroke="#fb0007" stroke-width="3.5"/>
<rect x="37.4" y="365.8" width="284" height="177.5" fill="none" stroke="#111" stroke-width="1.55"/>
<path d="M37.4 543.3v6.5M37.4 365.8v-6.5M72.9 543.3v6.5M72.9 365.8v-6.5M108.4 543.3v6.5M108.4 365.8v-6.5M143.9 543.3v6.5M143.9 365.8v-6.5M179.4 543.3v6.5M179.4 365.8v-6.5M214.9 543.3v6.5M214.9 365.8v-6.5M250.4 543.3v6.5M250.4 365.8v-6.5M285.9 543.3v6.5M285.9 365.8v-6.5M321.4 543.3v6.5M321.4 365.8v-6.5M37.4 365.8h-6.5M321.4 365.8h6.5M37.4 383.6h-3.2M321.4 383.6h3.2M37.4 401.3h-6.5M321.4 401.3h6.5M37.4 419.1h-3.2M321.4 419.1h3.2M37.4 436.8h-6.5M321.4 436.8h6.5M37.4 454.6h-3.2M321.4 454.6h3.2M37.4 472.3h-6.5M321.4 472.3h6.5M37.4 490.1h-3.2M321.4 490.1h3.2M37.4 507.8h-6.5M321.4 507.8h6.5M37.4 525.5h-3.2M321.4 525.5h3.2M37.4 543.3h-6.5M321.4 543.3h6.5" stroke="#111" stroke-width="1.4" fill="none"/>
<text x="37.4" y="566.3" text-anchor="middle" font-size="10.6" font-family="Liberation Sans, sans-serif" stroke="#000" stroke-width="0.25">60<tspan font-size="7.4" dy="-5.1" dx="0.3">o</tspan><tspan dy="5.1" dx="0.4">E</tspan></text>
<text x="72.9" y="566.3" text-anchor="middle" font-size="10.6" font-family="Liberation Sans, sans-serif" stroke="#000" stroke-width="0.25">70<tspan font-size="7.4" dy="-5.1" dx="0.3">o</tspan><tspan dy="5.1" dx="0.4">E</tspan></text>
<text x="108.4" y="566.3" text-anchor="middle" font-size="10.6" font-family="Liberation Sans, sans-serif" stroke="#000" stroke-width="0.25">80<tspan font-size="7.4" dy="-5.1" dx="0.3">o</tspan><tspan dy="5.1" dx="0.4">E</tspan></text>
<text x="143.9" y="566.3" text-anchor="middle" font-size="10.6" font-family="Liberation Sans, sans-serif" stroke="#000" stroke-width="0.25">90<tspan font-size="7.4" dy="-5.1" dx="0.3">o</tspan><tspan dy="5.1" dx="0.4">E</tspan></text>
<text x="179.4" y="566.3" text-anchor="middle" font-size="10.6" font-family="Liberation Sans, sans-serif" stroke="#000" stroke-width="0.25">100<tspan font-size="7.4" dy="-5.1" dx="0.3">o</tspan><tspan dy="5.1" dx="0.4">E</tspan></text>
<text x="214.9" y="566.3" text-anchor="middle" font-size="10.6" font-family="Liberation Sans, sans-serif" stroke="#000" stroke-width="0.25">110<tspan font-size="7.4" dy="-5.1" dx="0.3">o</tspan><tspan dy="5.1" dx="0.4">E</tspan></text>
<text x="250.4" y="566.3" text-anchor="middle" font-size="10.6" font-family="Liberation Sans, sans-serif" stroke="#000" stroke-width="0.25">120<tspan font-size="7.4" dy="-5.1" dx="0.3">o</tspan><tspan dy="5.1" dx="0.4">E</tspan></text>
<text x="285.9" y="566.3" text-anchor="middle" font-size="10.6" font-family="Liberation Sans, sans-serif" stroke="#000" stroke-width="0.25">130<tspan font-size="7.4" dy="-5.1" dx="0.3">o</tspan><tspan dy="5.1" dx="0.4">E</tspan></text>
<text x="321.4" y="566.3" text-anchor="middle" font-size="10.6" font-family="Liberation Sans, sans-serif" stroke="#000" stroke-width="0.25">140<tspan font-size="7.4" dy="-5.1" dx="0.3">o</tspan><tspan dy="5.1" dx="0.4">E</tspan></text>
<text x="24" y="369.7" text-anchor="end" font-size="10.6" font-family="Liberation Sans, sans-serif" stroke="#000" stroke-width="0.25">60<tspan font-size="7.4" dy="-5.1" dx="0.3">o</tspan><tspan dy="5.1" dx="0.4">N</tspan></text>
<text x="24" y="405.2" text-anchor="end" font-size="10.6" font-family="Liberation Sans, sans-serif" stroke="#000" stroke-width="0.25">50<tspan font-size="7.4" dy="-5.1" dx="0.3">o</tspan><tspan dy="5.1" dx="0.4">N</tspan></text>
<text x="24" y="440.7" text-anchor="end" font-size="10.6" font-family="Liberation Sans, sans-serif" stroke="#000" stroke-width="0.25">40<tspan font-size="7.4" dy="-5.1" dx="0.3">o</tspan><tspan dy="5.1" dx="0.4">N</tspan></text>
<text x="24" y="476.2" text-anchor="end" font-size="10.6" font-family="Liberation Sans, sans-serif" stroke="#000" stroke-width="0.25">30<tspan font-size="7.4" dy="-5.1" dx="0.3">o</tspan><tspan dy="5.1" dx="0.4">N</tspan></text>
<text x="24" y="511.7" text-anchor="end" font-size="10.6" font-family="Liberation Sans, sans-serif" stroke="#000" stroke-width="0.25">20<tspan font-size="7.4" dy="-5.1" dx="0.3">o</tspan><tspan dy="5.1" dx="0.4">N</tspan></text>
<text x="24" y="547.2" text-anchor="end" font-size="10.6" font-family="Liberation Sans, sans-serif" stroke="#000" stroke-width="0.25">10<tspan font-size="7.4" dy="-5.1" dx="0.3">o</tspan><tspan dy="5.1" dx="0.4">N</tspan></text>
</g>
<path d="M40 266.4L67.9 263L67.9 269.9Z" fill="#2a08d2" stroke="#222" stroke-width="0.6"/>
<rect x="67.9" y="263" width="27.9" height="6.9" fill="#2d5af0" stroke="#222" stroke-width="0.6"/>
<rect x="95.7" y="263" width="27.9" height="6.9" fill="#4ba6ff" stroke="#222" stroke-width="0.6"/>
<rect x="123.6" y="263" width="27.9" height="6.9" fill="#9ee9ff" stroke="#222" stroke-width="0.6"/>
<rect x="151.4" y="263" width="27.9" height="6.9" fill="#e9feff" stroke="#222" stroke-width="0.6"/>
<rect x="179.3" y="263" width="27.9" height="6.9" fill="#fffeea" stroke="#222" stroke-width="0.6"/>
<rect x="207.2" y="263" width="27.9" height="6.9" fill="#fdd39b" stroke="#222" stroke-width="0.6"/>
<rect x="235" y="263" width="27.9" height="6.9" fill="#fb825a" stroke="#222" stroke-width="0.6"/>
<rect x="262.9" y="263" width="27.9" height="6.9" fill="#ef2b36" stroke="#222" stroke-width="0.6"/>
<path d="M318.6 266.4L290.7 263L290.7 269.9Z" fill="#a3001c" stroke="#222" stroke-width="0.6"/>
<text x="67.9" y="280.1" text-anchor="middle" font-size="10.6" font-family="Liberation Sans, sans-serif" stroke="#000" stroke-width="0.25">-7</text>
<text x="95.7" y="280.1" text-anchor="middle" font-size="10.6" font-family="Liberation Sans, sans-serif" stroke="#000" stroke-width="0.25">-5</text>
<text x="123.6" y="280.1" text-anchor="middle" font-size="10.6" font-family="Liberation Sans, sans-serif" stroke="#000" stroke-width="0.25">-3</text>
<text x="151.4" y="280.1" text-anchor="middle" font-size="10.6" font-family="Liberation Sans, sans-serif" stroke="#000" stroke-width="0.25">-1</text>
<text x="179.3" y="280.1" text-anchor="middle" font-size="10.6" font-family="Liberation Sans, sans-serif" stroke="#000" stroke-width="0.25">0</text>
<text x="207.2" y="280.1" text-anchor="middle" font-size="10.6" font-family="Liberation Sans, sans-serif" stroke="#000" stroke-width="0.25">1</text>
<text x="235" y="280.1" text-anchor="middle" font-size="10.6" font-family="Liberation Sans, sans-serif" stroke="#000" stroke-width="0.25">3</text>
<text x="262.9" y="280.1" text-anchor="middle" font-size="10.6" font-family="Liberation Sans, sans-serif" stroke="#000" stroke-width="0.25">5</text>
<text x="290.7" y="280.1" text-anchor="middle" font-size="10.6" font-family="Liberation Sans, sans-serif" stroke="#000" stroke-width="0.25">7</text>
<path d="M389.4 265.4L417.3 262L417.3 268.9Z" fill="#2a08d2" stroke="#222" stroke-width="0.6"/>
<rect x="417.3" y="262" width="27.9" height="6.9" fill="#2d5af0" stroke="#222" stroke-width="0.6"/>
<rect x="445.1" y="262" width="27.9" height="6.9" fill="#4ba6ff" stroke="#222" stroke-width="0.6"/>
<rect x="473" y="262" width="27.9" height="6.9" fill="#9ee9ff" stroke="#222" stroke-width="0.6"/>
<rect x="500.8" y="262" width="27.9" height="6.9" fill="#e9feff" stroke="#222" stroke-width="0.6"/>
<rect x="528.7" y="262" width="27.9" height="6.9" fill="#fffeea" stroke="#222" stroke-width="0.6"/>
<rect x="556.6" y="262" width="27.9" height="6.9" fill="#fdd39b" stroke="#222" stroke-width="0.6"/>
<rect x="584.4" y="262" width="27.9" height="6.9" fill="#fb825a" stroke="#222" stroke-width="0.6"/>
<rect x="612.3" y="262" width="27.9" height="6.9" fill="#ef2b36" stroke="#222" stroke-width="0.6"/>
<path d="M668 265.4L640.1 262L640.1 268.9Z" fill="#a3001c" stroke="#222" stroke-width="0.6"/>
<text x="417.3" y="279.1" text-anchor="middle" font-size="10.6" font-family="Liberation Sans, sans-serif" stroke="#000" stroke-width="0.25">-7</text>
<text x="445.1" y="279.1" text-anchor="middle" font-size="10.6" font-family="Liberation Sans, sans-serif" stroke="#000" stroke-width="0.25">-5</text>
<text x="473" y="279.1" text-anchor="middle" font-size="10.6" font-family="Liberation Sans, sans-serif" stroke="#000" stroke-width="0.25">-3</text>
<text x="500.8" y="279.1" text-anchor="middle" font-size="10.6" font-family="Liberation Sans, sans-serif" stroke="#000" stroke-width="0.25">-1</text>
<text x="528.7" y="279.1" text-anchor="middle" font-size="10.6" font-family="Liberation Sans, sans-serif" stroke="#000" stroke-width="0.25">0</text>
<text x="556.6" y="279.1" text-anchor="middle" font-size="10.6" font-family="Liberation Sans, sans-serif" stroke="#000" stroke-width="0.25">1</text>
<text x="584.4" y="279.1" text-anchor="middle" font-size="10.6" font-family="Liberation Sans, sans-serif" stroke="#000" stroke-width="0.25">3</text>
<text x="612.3" y="279.1" text-anchor="middle" font-size="10.6" font-family="Liberation Sans, sans-serif" stroke="#000" stroke-width="0.25">5</text>
<text x="640.1" y="279.1" text-anchor="middle" font-size="10.6" font-family="Liberation Sans, sans-serif" stroke="#000" stroke-width="0.25">7</text>
<path d="M40 589.2L67.9 585.8L67.9 592.7Z" fill="#2a08d2" stroke="#222" stroke-width="0.6"/>
<rect x="67.9" y="585.8" width="27.9" height="6.9" fill="#2d5af0" stroke="#222" stroke-width="0.6"/>
<rect x="95.7" y="585.8" width="27.9" height="6.9" fill="#4ba6ff" stroke="#222" stroke-width="0.6"/>
<rect x="123.6" y="585.8" width="27.9" height="6.9" fill="#9ee9ff" stroke="#222" stroke-width="0.6"/>
<rect x="151.4" y="585.8" width="27.9" height="6.9" fill="#e9feff" stroke="#222" stroke-width="0.6"/>
<rect x="179.3" y="585.8" width="27.9" height="6.9" fill="#fffeea" stroke="#222" stroke-width="0.6"/>
<rect x="207.2" y="585.8" width="27.9" height="6.9" fill="#fdd39b" stroke="#222" stroke-width="0.6"/>
<rect x="235" y="585.8" width="27.9" height="6.9" fill="#fb825a" stroke="#222" stroke-width="0.6"/>
<rect x="262.9" y="585.8" width="27.9" height="6.9" fill="#ef2b36" stroke="#222" stroke-width="0.6"/>
<path d="M318.6 589.2L290.7 585.8L290.7 592.7Z" fill="#a3001c" stroke="#222" stroke-width="0.6"/>
<text x="67.9" y="602.9" text-anchor="middle" font-size="10.6" font-family="Liberation Sans, sans-serif" stroke="#000" stroke-width="0.25">-7</text>
<text x="95.7" y="602.9" text-anchor="middle" font-size="10.6" font-family="Liberation Sans, sans-serif" stroke="#000" stroke-width="0.25">-5</text>
<text x="123.6" y="602.9" text-anchor="middle" font-size="10.6" font-family="Liberation Sans, sans-serif" stroke="#000" stroke-width="0.25">-3</text>
<text x="151.4" y="602.9" text-anchor="middle" font-size="10.6" font-family="Liberation Sans, sans-serif" stroke="#000" stroke-width="0.25">-1</text>
<text x="179.3" y="602.9" text-anchor="middle" font-size="10.6" font-family="Liberation Sans, sans-serif" stroke="#000" stroke-width="0.25">0</text>
<text x="207.2" y="602.9" text-anchor="middle" font-size="10.6" font-family="Liberation Sans, sans-serif" stroke="#000" stroke-width="0.25">1</text>
<text x="235" y="602.9" text-anchor="middle" font-size="10.6" font-family="Liberation Sans, sans-serif" stroke="#000" stroke-width="0.25">3</text>
<text x="262.9" y="602.9" text-anchor="middle" font-size="10.6" font-family="Liberation Sans, sans-serif" stroke="#000" stroke-width="0.25">5</text>
<text x="290.7" y="602.9" text-anchor="middle" font-size="10.6" font-family="Liberation Sans, sans-serif" stroke="#000" stroke-width="0.25">7</text>
<text x="41.2" y="16.6" font-size="23.8" font-family="Liberation Serif, serif">(a) SULx2Asia</text>
<text x="378.0" y="17.6" font-size="23.8" font-family="Liberation Serif, serif">(b) SULx5Asia</text>
<text x="41.2" y="340.5" font-size="23.8" font-family="Liberation Serif, serif">(c) SULx10Asia</text>
<text x="374.6" y="342.7" font-size="23.8" font-family="Liberation Serif, serif">(d) Sulfate-induced dust change</text>
<rect x="395.4" y="363.2" width="22" height="21.6" fill="#fc8415" stroke="#111" stroke-width="0.9"/>
<rect x="417.4" y="363.2" width="22" height="31.4" fill="#45b24a" stroke="#111" stroke-width="0.9"/>
<rect x="439.4" y="363.2" width="22" height="30.1" fill="#8560ad" stroke="#111" stroke-width="0.9"/>
<rect x="496.1" y="363.2" width="22" height="60" fill="#fc8415" stroke="#111" stroke-width="0.9"/>
<rect x="518.1" y="363.2" width="22" height="83.2" fill="#45b24a" stroke="#111" stroke-width="0.9"/>
<rect x="540.1" y="363.2" width="22" height="46.6" fill="#8560ad" stroke="#111" stroke-width="0.9"/>
<rect x="596.8" y="363.2" width="22" height="107.8" fill="#fc8415" stroke="#111" stroke-width="0.9"/>
<rect x="618.8" y="363.2" width="22" height="166.4" fill="#45b24a" stroke="#111" stroke-width="0.9"/>
<rect x="640.8" y="363.2" width="22" height="108.4" fill="#8560ad" stroke="#111" stroke-width="0.9"/>
<rect x="377.9" y="363.2" width="302.1" height="189.1" fill="none" stroke="#222" stroke-width="1.3"/>
<path d="M377.9 363.2h-4.2M680 363.2h-4.2M377.9 375.8h-2.2M680 375.8h-2.2M377.9 388.4h-2.2M680 388.4h-2.2M377.9 401h-2.2M680 401h-2.2M377.9 413.6h-2.2M680 413.6h-2.2M377.9 426.2h-4.2M680 426.2h-4.2M377.9 438.8h-2.2M680 438.8h-2.2M377.9 451.4h-2.2M680 451.4h-2.2M377.9 464.1h-2.2M680 464.1h-2.2M377.9 476.7h-2.2M680 476.7h-2.2M377.9 489.3h-4.2M680 489.3h-4.2M377.9 501.9h-2.2M680 501.9h-2.2M377.9 514.5h-2.2M680 514.5h-2.2M377.9 527.1h-2.2M680 527.1h-2.2M377.9 539.7h-2.2M680 539.7h-2.2M377.9 552.3h-4.2M680 552.3h-4.2M428.4 552.3v4M428.4 363.2v3.5M529.1 552.3v4M529.1 363.2v3.5M629.8 552.3v4M629.8 363.2v3.5M478.7 363.2v2.2M478.7 552.3v2.2M579.4 363.2v2.2M579.4 552.3v2.2" stroke="#222" stroke-width="1.1" fill="none"/>
<text x="371.8" y="367.8" text-anchor="end" font-size="13.8" font-family="Liberation Serif, serif">0</text>
<text x="371.8" y="430.8" text-anchor="end" font-size="13.8" font-family="Liberation Serif, serif">-5</text>
<text x="371.8" y="493.9" text-anchor="end" font-size="13.8" font-family="Liberation Serif, serif">-10</text>
<text x="371.8" y="556.9" text-anchor="end" font-size="13.8" font-family="Liberation Serif, serif">-15</text>
<text x="428.4" y="569.6" text-anchor="middle" font-size="14.2" font-family="Liberation Serif, serif">SULx2Asia</text>
<text x="529.1" y="569.6" text-anchor="middle" font-size="14.2" font-family="Liberation Serif, serif">SULx5Asia</text>
<text x="629.8" y="569.6" text-anchor="middle" font-size="14.2" font-family="Liberation Serif, serif">SULx10Asia</text>
<text transform="translate(347.6 457.6) rotate(-90)" text-anchor="middle" font-size="17.3" font-family="Liberation Serif, serif">Percentage (%)</text>
<rect x="414.1" y="478" width="20" height="9.4" fill="#fc8415" stroke="#111" stroke-width="0.9"/>
<text x="440.2" y="486.6" font-size="17.2" font-family="Liberation Serif, serif">Dust concentration</text>
<rect x="414.1" y="499.6" width="20" height="9.4" fill="#45b24a" stroke="#111" stroke-width="0.9"/>
<text x="440.2" y="508.2" font-size="17.2" font-family="Liberation Serif, serif">DS frequency</text>
<rect x="414.1" y="521.2" width="20" height="9.4" fill="#8560ad" stroke="#111" stroke-width="0.9"/>
<text x="440.2" y="529.8" font-size="17.2" font-family="Liberation Serif, serif">Dust emission flux</text>
</svg>
</body></html>
